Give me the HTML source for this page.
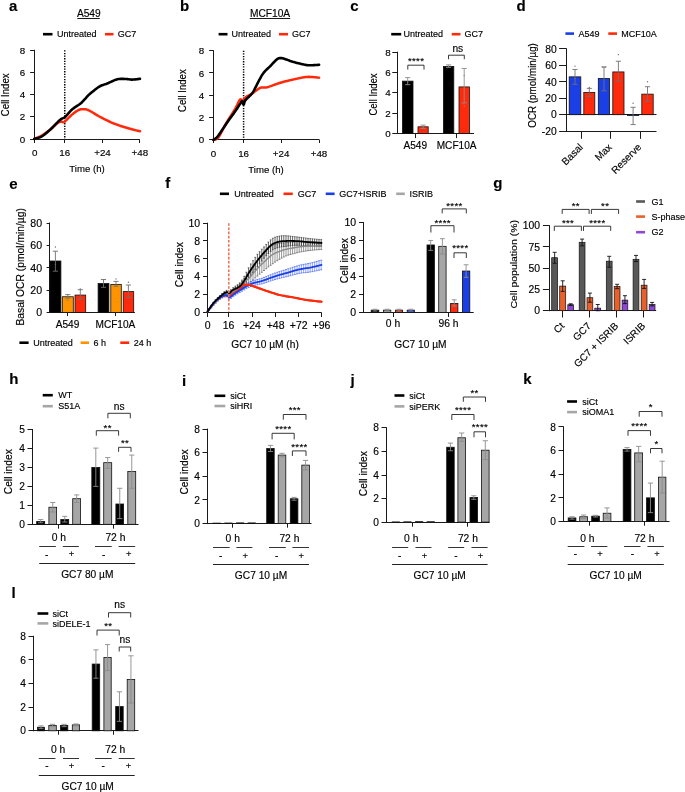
<!DOCTYPE html>
<html><head><meta charset="utf-8"><title>Figure</title>
<style>
html,body{margin:0;padding:0;background:#fff;}
body{width:685px;height:792px;overflow:hidden;}
svg{display:block;filter:blur(0.3px);}
text{font-family:"Liberation Sans", sans-serif;fill:#000;stroke:#000;stroke-width:0.15px;}
</style></head><body>
<svg width="685" height="792" viewBox="0 0 685 792">
<rect x="0" y="0" width="685" height="792" fill="#fff"/>
<text x="9.00" y="10.90" font-size="15" font-weight="bold">a</text>
<text x="0" y="0" font-size="10.2" text-anchor="middle" transform="translate(88.80 16.57) scale(1 1.0)">A549</text>
<line x1="77.30" y1="18.50" x2="99.80" y2="18.50" stroke="#000" stroke-width="0.9" />
<line x1="43.00" y1="34.20" x2="52.50" y2="34.20" stroke="#000" stroke-width="2.6" />
<text x="0" y="0" font-size="9.0" transform="translate(57.00 37.44) scale(1 1.0)">Untreated</text>
<line x1="105.00" y1="34.20" x2="113.50" y2="34.20" stroke="#ff2a0c" stroke-width="2.6" />
<text x="0" y="0" font-size="9.0" transform="translate(117.80 37.44) scale(1 1.0)">GC7</text>
<line x1="34.50" y1="49.80" x2="34.50" y2="139.60" stroke="#1a1a1a" stroke-width="1.0" />
<line x1="30.10" y1="139.50" x2="34.50" y2="139.50" stroke="#1a1a1a" stroke-width="1.0" />
<text x="0" y="0" font-size="9.8" text-anchor="end" transform="translate(25.10 142.63) scale(1 1.0)">0</text>
<line x1="30.10" y1="116.50" x2="34.50" y2="116.50" stroke="#1a1a1a" stroke-width="1.0" />
<text x="0" y="0" font-size="9.8" text-anchor="end" transform="translate(25.10 120.43) scale(1 1.0)">2</text>
<line x1="30.10" y1="94.50" x2="34.50" y2="94.50" stroke="#1a1a1a" stroke-width="1.0" />
<text x="0" y="0" font-size="9.8" text-anchor="end" transform="translate(25.10 98.23) scale(1 1.0)">4</text>
<line x1="30.10" y1="72.50" x2="34.50" y2="72.50" stroke="#1a1a1a" stroke-width="1.0" />
<text x="0" y="0" font-size="9.8" text-anchor="end" transform="translate(25.10 76.03) scale(1 1.0)">6</text>
<line x1="30.10" y1="50.50" x2="34.50" y2="50.50" stroke="#1a1a1a" stroke-width="1.0" />
<text x="0" y="0" font-size="9.8" text-anchor="end" transform="translate(25.10 53.83) scale(1 1.0)">8</text>
<line x1="34.00" y1="139.50" x2="139.80" y2="139.50" stroke="#1a1a1a" stroke-width="1.0" />
<line x1="34.50" y1="139.50" x2="34.50" y2="143.00" stroke="#1a1a1a" stroke-width="1.0" />
<line x1="64.50" y1="139.50" x2="64.50" y2="143.00" stroke="#1a1a1a" stroke-width="1.0" />
<line x1="102.50" y1="139.50" x2="102.50" y2="143.00" stroke="#1a1a1a" stroke-width="1.0" />
<line x1="139.50" y1="139.50" x2="139.50" y2="143.00" stroke="#1a1a1a" stroke-width="1.0" />
<text x="0" y="0" font-size="9.8" text-anchor="middle" transform="translate(34.80 155.83) scale(1 1.0)">0</text>
<text x="0" y="0" font-size="9.8" text-anchor="middle" transform="translate(64.70 155.83) scale(1 1.0)">16</text>
<text x="0" y="0" font-size="9.8" text-anchor="middle" transform="translate(102.50 155.83) scale(1 1.0)">+24</text>
<text x="0" y="0" font-size="9.8" text-anchor="middle" transform="translate(139.80 155.83) scale(1 1.0)">+48</text>
<text x="0" y="0" font-size="9.6" text-anchor="middle" transform="translate(87.00 172.06) scale(1 1.0)">Time (h)</text>
<text x="0" y="3.46" font-size="9.6" text-anchor="middle" transform="translate(4.80 94.80) rotate(-90) scale(1 1.12)">Cell Index</text>
<line x1="64.75" y1="50.30" x2="64.75" y2="139.00" stroke="#000" stroke-width="1.5" stroke-dasharray="1.3 1.3"/>
<polyline points="34.20,138.90 34.78,138.65 35.55,138.35 36.46,137.98 37.48,137.56 38.56,137.10 39.67,136.60 40.76,136.06 41.80,135.50 42.81,134.90 43.84,134.24 44.89,133.54 45.95,132.81 47.01,132.05 48.06,131.27 49.09,130.48 50.10,129.70 51.11,128.87 52.15,127.96 53.19,127.02 54.21,126.07 55.19,125.16 56.11,124.32 56.96,123.59 57.70,123.00 58.33,122.56 58.87,122.23 59.32,122.00 59.72,121.84 60.08,121.75 60.41,121.69 60.75,121.64 61.10,121.60 61.46,121.60 61.79,121.67 62.10,121.78 62.41,121.92 62.70,122.06 63.00,122.17 63.29,122.23 63.60,122.20 63.89,122.12 64.15,122.01 64.39,121.88 64.64,121.70 64.91,121.47 65.24,121.19 65.62,120.83 66.10,120.40 66.67,119.86 67.32,119.20 68.03,118.47 68.79,117.67 69.58,116.86 70.39,116.06 71.20,115.29 72.00,114.60 72.81,113.94 73.66,113.28 74.53,112.62 75.41,111.99 76.28,111.39 77.13,110.85 77.94,110.38 78.70,110.00 79.41,109.70 80.07,109.49 80.70,109.33 81.30,109.24 81.89,109.19 82.48,109.17 83.08,109.18 83.70,109.20 84.29,109.22 84.81,109.23 85.32,109.26 85.83,109.33 86.40,109.46 87.06,109.67 87.85,109.97 88.80,110.40 89.94,110.98 91.22,111.70 92.63,112.52 94.13,113.42 95.70,114.37 97.30,115.32 98.91,116.24 100.50,117.10 102.09,117.93 103.73,118.77 105.40,119.61 107.09,120.44 108.79,121.25 110.50,122.04 112.21,122.79 113.90,123.50 115.59,124.16 117.29,124.79 118.99,125.38 120.70,125.94 122.40,126.48 124.09,127.00 125.75,127.51 127.40,128.00 129.10,128.49 130.91,128.99 132.74,129.47 134.54,129.93 136.24,130.36 137.76,130.74 139.03,131.05 140.00,131.30" fill="none" stroke="#ff2a0c" stroke-width="2.5" stroke-linejoin="round" stroke-linecap="round" />
<polyline points="34.20,138.90 34.78,138.74 35.55,138.55 36.46,138.33 37.48,138.07 38.56,137.75 39.67,137.38 40.76,136.93 41.80,136.40 42.81,135.77 43.84,135.04 44.89,134.23 45.95,133.37 47.01,132.46 48.06,131.54 49.09,130.61 50.10,129.70 51.11,128.76 52.15,127.76 53.19,126.71 54.21,125.67 55.19,124.65 56.11,123.70 56.96,122.84 57.70,122.10 58.32,121.50 58.83,121.01 59.25,120.61 59.61,120.27 59.95,119.98 60.29,119.70 60.67,119.41 61.10,119.10 61.57,118.80 62.04,118.57 62.51,118.37 62.99,118.16 63.51,117.93 64.06,117.62 64.65,117.23 65.30,116.70 66.01,116.02 66.76,115.21 67.55,114.29 68.39,113.32 69.25,112.32 70.15,111.32 71.06,110.37 72.00,109.50 72.99,108.69 74.06,107.91 75.17,107.15 76.31,106.41 77.42,105.69 78.50,104.98 79.50,104.29 80.40,103.60 81.20,102.92 81.93,102.26 82.59,101.60 83.21,100.96 83.79,100.34 84.34,99.74 84.87,99.16 85.40,98.60 85.86,98.10 86.21,97.68 86.50,97.31 86.79,96.94 87.11,96.55 87.52,96.10 88.07,95.56 88.80,94.90 89.75,94.07 90.87,93.09 92.14,92.01 93.49,90.88 94.88,89.75 96.26,88.68 97.58,87.71 98.80,86.90 99.91,86.26 100.97,85.75 101.99,85.32 102.99,84.96 104.00,84.63 105.02,84.30 106.08,83.93 107.20,83.50 108.39,82.99 109.65,82.41 110.94,81.81 112.25,81.21 113.56,80.62 114.85,80.09 116.11,79.64 117.30,79.30 118.44,79.07 119.56,78.93 120.65,78.86 121.71,78.85 122.75,78.88 123.76,78.92 124.74,78.97 125.70,79.00 126.61,79.04 127.47,79.12 128.30,79.22 129.10,79.33 129.90,79.44 130.70,79.53 131.53,79.59 132.40,79.60 133.36,79.56 134.41,79.48 135.52,79.37 136.62,79.24 137.67,79.10 138.61,78.98 139.41,78.87 140.00,78.80" fill="none" stroke="#000" stroke-width="2.6" stroke-linejoin="round" stroke-linecap="round" />
<text x="180.00" y="10.90" font-size="15" font-weight="bold">b</text>
<text x="0" y="0" font-size="10.2" text-anchor="middle" transform="translate(270.00 16.57) scale(1 1.0)">MCF10A</text>
<line x1="249.80" y1="18.50" x2="290.20" y2="18.50" stroke="#000" stroke-width="0.9" />
<line x1="218.60" y1="34.20" x2="227.50" y2="34.20" stroke="#000" stroke-width="2.6" />
<text x="0" y="0" font-size="9.0" transform="translate(231.60 37.44) scale(1 1.0)">Untreated</text>
<line x1="279.00" y1="34.20" x2="288.00" y2="34.20" stroke="#ff2a0c" stroke-width="2.6" />
<text x="0" y="0" font-size="9.0" transform="translate(292.00 37.44) scale(1 1.0)">GC7</text>
<line x1="213.50" y1="50.20" x2="213.50" y2="140.30" stroke="#1a1a1a" stroke-width="1.0" />
<line x1="209.10" y1="139.50" x2="213.50" y2="139.50" stroke="#1a1a1a" stroke-width="1.0" />
<text x="0" y="0" font-size="9.8" text-anchor="end" transform="translate(204.10 143.33) scale(1 1.0)">0</text>
<line x1="209.10" y1="117.50" x2="213.50" y2="117.50" stroke="#1a1a1a" stroke-width="1.0" />
<text x="0" y="0" font-size="9.8" text-anchor="end" transform="translate(204.10 121.05) scale(1 1.0)">2</text>
<line x1="209.10" y1="95.50" x2="213.50" y2="95.50" stroke="#1a1a1a" stroke-width="1.0" />
<text x="0" y="0" font-size="9.8" text-anchor="end" transform="translate(204.10 98.78) scale(1 1.0)">4</text>
<line x1="209.10" y1="72.50" x2="213.50" y2="72.50" stroke="#1a1a1a" stroke-width="1.0" />
<text x="0" y="0" font-size="9.8" text-anchor="end" transform="translate(204.10 76.50) scale(1 1.0)">6</text>
<line x1="209.10" y1="50.50" x2="213.50" y2="50.50" stroke="#1a1a1a" stroke-width="1.0" />
<text x="0" y="0" font-size="9.8" text-anchor="end" transform="translate(204.10 54.23) scale(1 1.0)">8</text>
<line x1="213.00" y1="139.50" x2="319.00" y2="139.50" stroke="#1a1a1a" stroke-width="1.0" />
<line x1="213.50" y1="139.50" x2="213.50" y2="143.00" stroke="#1a1a1a" stroke-width="1.0" />
<line x1="243.50" y1="139.50" x2="243.50" y2="143.00" stroke="#1a1a1a" stroke-width="1.0" />
<line x1="281.50" y1="139.50" x2="281.50" y2="143.00" stroke="#1a1a1a" stroke-width="1.0" />
<line x1="319.50" y1="139.50" x2="319.50" y2="143.00" stroke="#1a1a1a" stroke-width="1.0" />
<text x="0" y="0" font-size="9.8" text-anchor="middle" transform="translate(213.40 156.53) scale(1 1.0)">0</text>
<text x="0" y="0" font-size="9.8" text-anchor="middle" transform="translate(243.60 156.53) scale(1 1.0)">16</text>
<text x="0" y="0" font-size="9.8" text-anchor="middle" transform="translate(281.10 156.53) scale(1 1.0)">+24</text>
<text x="0" y="0" font-size="9.8" text-anchor="middle" transform="translate(319.00 156.53) scale(1 1.0)">+48</text>
<text x="0" y="0" font-size="9.6" text-anchor="middle" transform="translate(266.00 172.86) scale(1 1.0)">Time (h)</text>
<text x="0" y="3.46" font-size="9.6" text-anchor="middle" transform="translate(182.60 90.60) rotate(-90) scale(1 1.12)">Cell Index</text>
<line x1="243.60" y1="50.70" x2="243.60" y2="139.80" stroke="#000" stroke-width="1.5" stroke-dasharray="1.3 1.3"/>
<polyline points="213.40,139.80 213.76,139.69 214.22,139.65 214.76,139.60 215.38,139.49 216.06,139.27 216.79,138.87 217.58,138.23 218.40,137.30 219.29,136.00 220.26,134.37 221.30,132.49 222.39,130.43 223.50,128.29 224.62,126.15 225.73,124.09 226.80,122.20 227.88,120.41 229.00,118.61 230.13,116.83 231.26,115.08 232.36,113.38 233.40,111.76 234.35,110.22 235.20,108.80 235.94,107.46 236.60,106.17 237.19,104.95 237.72,103.82 238.19,102.78 238.62,101.86 239.02,101.06 239.40,100.40 239.73,99.91 240.00,99.59 240.22,99.40 240.41,99.32 240.58,99.32 240.74,99.37 240.91,99.44 241.10,99.50 241.29,99.63 241.46,99.88 241.63,100.21 241.79,100.56 241.97,100.88 242.18,101.13 242.41,101.25 242.70,101.20 243.02,100.95 243.36,100.55 243.73,100.02 244.13,99.42 244.56,98.78 245.03,98.13 245.54,97.53 246.10,97.00 246.70,96.55 247.34,96.15 248.02,95.77 248.74,95.40 249.49,95.02 250.29,94.60 251.13,94.13 252.00,93.60 252.94,92.95 253.96,92.19 255.04,91.37 256.15,90.52 257.26,89.69 258.36,88.93 259.41,88.29 260.40,87.80 261.27,87.51 262.04,87.40 262.74,87.40 263.44,87.47 264.17,87.55 264.99,87.59 265.95,87.52 267.10,87.30 268.45,86.91 269.98,86.41 271.63,85.82 273.38,85.17 275.18,84.51 276.99,83.85 278.78,83.24 280.50,82.70 282.17,82.22 283.85,81.76 285.52,81.33 287.19,80.92 288.87,80.52 290.54,80.14 292.22,79.77 293.90,79.40 295.60,79.03 297.31,78.64 299.03,78.26 300.76,77.89 302.46,77.56 304.15,77.27 305.80,77.05 307.40,76.90 309.03,76.85 310.73,76.89 312.43,76.99 314.09,77.14 315.65,77.31 317.04,77.48 318.21,77.62 319.10,77.70" fill="none" stroke="#ff2a0c" stroke-width="2.5" stroke-linejoin="round" stroke-linecap="round" />
<polyline points="213.40,139.80 213.69,139.62 214.04,139.45 214.45,139.25 214.92,138.99 215.47,138.63 216.10,138.12 216.81,137.42 217.60,136.50 218.52,135.29 219.57,133.80 220.72,132.11 221.94,130.28 223.19,128.38 224.44,126.49 225.65,124.67 226.80,123.00 227.91,121.42 229.04,119.85 230.16,118.30 231.26,116.78 232.33,115.31 233.36,113.89 234.32,112.55 235.20,111.30 236.01,110.12 236.76,108.99 237.46,107.93 238.10,106.92 238.69,106.00 239.24,105.15 239.74,104.38 240.20,103.70 240.60,103.10 240.93,102.58 241.20,102.13 241.42,101.76 241.63,101.48 241.81,101.29 242.00,101.20 242.20,101.20 242.40,101.39 242.59,101.81 242.76,102.38 242.92,103.01 243.08,103.62 243.24,104.15 243.41,104.50 243.60,104.60 243.78,104.44 243.93,104.11 244.07,103.62 244.22,103.03 244.41,102.37 244.64,101.69 244.93,101.02 245.30,100.40 245.78,99.80 246.36,99.17 247.01,98.51 247.70,97.85 248.40,97.19 249.09,96.53 249.73,95.90 250.30,95.30 250.78,94.77 251.20,94.32 251.58,93.91 251.94,93.51 252.31,93.06 252.69,92.54 253.11,91.90 253.60,91.10 254.15,90.12 254.75,88.97 255.39,87.70 256.04,86.36 256.72,84.99 257.39,83.62 258.05,82.31 258.70,81.10 259.32,79.96 259.92,78.85 260.51,77.76 261.10,76.69 261.70,75.66 262.33,74.64 262.99,73.66 263.70,72.70 264.46,71.78 265.26,70.91 266.09,70.07 266.94,69.25 267.81,68.45 268.69,67.64 269.55,66.83 270.40,66.00 271.25,65.12 272.13,64.17 273.02,63.21 273.91,62.25 274.77,61.34 275.60,60.50 276.38,59.78 277.10,59.20 277.74,58.77 278.33,58.47 278.86,58.27 279.36,58.16 279.83,58.10 280.31,58.09 280.79,58.09 281.30,58.10 281.80,58.12 282.25,58.18 282.69,58.27 283.14,58.40 283.62,58.56 284.15,58.75 284.77,58.96 285.50,59.20 286.31,59.48 287.19,59.80 288.12,60.15 289.12,60.53 290.19,60.93 291.34,61.33 292.58,61.72 293.90,62.10 295.36,62.49 296.96,62.92 298.67,63.36 300.44,63.80 302.25,64.21 304.03,64.58 305.76,64.88 307.40,65.10 309.03,65.22 310.73,65.25 312.43,65.22 314.09,65.14 315.65,65.04 317.04,64.93 318.21,64.85 319.10,64.80" fill="none" stroke="#000" stroke-width="2.6" stroke-linejoin="round" stroke-linecap="round" />
<text x="350.30" y="10.90" font-size="15" font-weight="bold">c</text>
<line x1="391.20" y1="34.20" x2="401.20" y2="34.20" stroke="#000" stroke-width="2.6" />
<text x="0" y="0" font-size="9.0" transform="translate(403.60 37.44) scale(1 1.0)">Untreated</text>
<line x1="451.70" y1="34.20" x2="460.50" y2="34.20" stroke="#ff2a0c" stroke-width="2.6" />
<text x="0" y="0" font-size="9.0" transform="translate(464.60 37.44) scale(1 1.0)">GC7</text>
<line x1="397.50" y1="51.70" x2="397.50" y2="133.90" stroke="#1a1a1a" stroke-width="1.0" />
<line x1="392.30" y1="133.50" x2="397.50" y2="133.50" stroke="#1a1a1a" stroke-width="1.0" />
<text x="0" y="0" font-size="9.8" text-anchor="end" transform="translate(390.70 136.93) scale(1 1.0)">0</text>
<line x1="392.30" y1="113.50" x2="397.50" y2="113.50" stroke="#1a1a1a" stroke-width="1.0" />
<text x="0" y="0" font-size="9.8" text-anchor="end" transform="translate(390.70 116.63) scale(1 1.0)">2</text>
<line x1="392.30" y1="92.50" x2="397.50" y2="92.50" stroke="#1a1a1a" stroke-width="1.0" />
<text x="0" y="0" font-size="9.8" text-anchor="end" transform="translate(390.70 96.33) scale(1 1.0)">4</text>
<line x1="392.30" y1="72.50" x2="397.50" y2="72.50" stroke="#1a1a1a" stroke-width="1.0" />
<text x="0" y="0" font-size="9.8" text-anchor="end" transform="translate(390.70 76.03) scale(1 1.0)">6</text>
<line x1="392.30" y1="52.50" x2="397.50" y2="52.50" stroke="#1a1a1a" stroke-width="1.0" />
<text x="0" y="0" font-size="9.8" text-anchor="end" transform="translate(390.70 55.73) scale(1 1.0)">8</text>
<line x1="397.00" y1="133.50" x2="474.00" y2="133.50" stroke="#1a1a1a" stroke-width="1.0" />
<line x1="415.50" y1="133.50" x2="415.50" y2="138.10" stroke="#1a1a1a" stroke-width="1.0" />
<line x1="456.50" y1="133.50" x2="456.50" y2="138.10" stroke="#1a1a1a" stroke-width="1.0" />
<rect x="402.40" y="81.13" width="10.60" height="52.27" fill="#000" stroke="#111" stroke-width="0.8"/>
<rect x="418.00" y="126.80" width="10.20" height="6.60" fill="#ff2a0c" stroke="#111" stroke-width="0.8"/>
<rect x="443.40" y="66.41" width="10.40" height="66.99" fill="#000" stroke="#111" stroke-width="0.8"/>
<rect x="459.00" y="86.91" width="10.40" height="46.49" fill="#ff2a0c" stroke="#111" stroke-width="0.8"/>
<line x1="407.70" y1="77.58" x2="407.70" y2="84.68" stroke="#8c8c8c" stroke-width="0.9" />
<line x1="405.10" y1="77.58" x2="410.30" y2="77.58" stroke="#8c8c8c" stroke-width="0.9" />
<line x1="405.10" y1="84.68" x2="410.30" y2="84.68" stroke="#8c8c8c" stroke-width="0.9" />
<line x1="423.10" y1="125.08" x2="423.10" y2="128.33" stroke="#8c8c8c" stroke-width="0.9" />
<line x1="420.50" y1="125.08" x2="425.70" y2="125.08" stroke="#8c8c8c" stroke-width="0.9" />
<line x1="420.50" y1="128.33" x2="425.70" y2="128.33" stroke="#8c8c8c" stroke-width="0.9" />
<line x1="448.60" y1="64.89" x2="448.60" y2="67.42" stroke="#8c8c8c" stroke-width="0.9" />
<line x1="446.00" y1="64.89" x2="451.20" y2="64.89" stroke="#8c8c8c" stroke-width="0.9" />
<line x1="446.00" y1="67.42" x2="451.20" y2="67.42" stroke="#8c8c8c" stroke-width="0.9" />
<line x1="464.20" y1="68.44" x2="464.20" y2="102.95" stroke="#8c8c8c" stroke-width="0.9" />
<line x1="461.60" y1="68.44" x2="466.80" y2="68.44" stroke="#8c8c8c" stroke-width="0.9" />
<line x1="461.60" y1="102.95" x2="466.80" y2="102.95" stroke="#8c8c8c" stroke-width="0.9" />
<circle cx="464.20" cy="75.55" r="0.7" fill="#8c8c8c"/>
<circle cx="464.20" cy="106.00" r="0.7" fill="#8c8c8c"/>
<text x="0" y="0" font-size="10.1" text-anchor="middle" transform="translate(415.30 149.34) scale(1 1.0)">A549</text>
<text x="0" y="0" font-size="10.1" text-anchor="middle" transform="translate(456.60 149.34) scale(1 1.0)">MCF10A</text>
<text x="0" y="3.42" font-size="9.5" text-anchor="middle" transform="translate(373.30 94.50) rotate(-90) scale(1 1.12)">Cell Index</text>
<polyline points="407.80,69.60 407.80,65.20 424.00,65.20 424.00,69.60" fill="none" stroke="#222" stroke-width="0.9"/>
<text x="416.10" y="64.12" font-size="9.6" letter-spacing="0.35" text-anchor="middle">****</text>
<polyline points="448.5,59.2 448.5,55.2 464.3,55.2 464.3,59.2" fill="none" stroke="#222" stroke-width="0.9"/>
<text x="0" y="0" font-size="10.2" text-anchor="middle" transform="translate(457.80 52.27) scale(1 1.0)">ns</text>
<text x="516.50" y="10.90" font-size="15" font-weight="bold">d</text>
<line x1="565.40" y1="33.60" x2="574.00" y2="33.60" stroke="#1a3fe6" stroke-width="2.6" />
<text x="0" y="0" font-size="9.0" transform="translate(578.40 36.84) scale(1 1.0)">A549</text>
<line x1="608.30" y1="33.60" x2="617.00" y2="33.60" stroke="#ff2a0c" stroke-width="2.6" />
<text x="0" y="0" font-size="9.0" transform="translate(621.20 36.84) scale(1 1.0)">MCF10A</text>
<line x1="566.50" y1="48.40" x2="566.50" y2="131.65" stroke="#1a1a1a" stroke-width="1.0" />
<line x1="559.10" y1="131.50" x2="566.50" y2="131.50" stroke="#1a1a1a" stroke-width="1.0" />
<text x="0" y="0" font-size="10.3" text-anchor="end" transform="translate(556.70 134.86) scale(1 1.0)">-20</text>
<line x1="559.10" y1="114.50" x2="566.50" y2="114.50" stroke="#1a1a1a" stroke-width="1.0" />
<text x="0" y="0" font-size="10.3" text-anchor="end" transform="translate(556.70 118.41) scale(1 1.0)">0</text>
<line x1="559.10" y1="98.50" x2="566.50" y2="98.50" stroke="#1a1a1a" stroke-width="1.0" />
<text x="0" y="0" font-size="10.3" text-anchor="end" transform="translate(556.70 101.96) scale(1 1.0)">20</text>
<line x1="559.10" y1="81.50" x2="566.50" y2="81.50" stroke="#1a1a1a" stroke-width="1.0" />
<text x="0" y="0" font-size="10.3" text-anchor="end" transform="translate(556.70 85.51) scale(1 1.0)">40</text>
<line x1="559.10" y1="65.50" x2="566.50" y2="65.50" stroke="#1a1a1a" stroke-width="1.0" />
<text x="0" y="0" font-size="10.3" text-anchor="end" transform="translate(556.70 69.06) scale(1 1.0)">60</text>
<line x1="559.10" y1="48.50" x2="566.50" y2="48.50" stroke="#1a1a1a" stroke-width="1.0" />
<text x="0" y="0" font-size="10.3" text-anchor="end" transform="translate(556.70 52.61) scale(1 1.0)">80</text>
<line x1="566.20" y1="114.50" x2="656.50" y2="114.50" stroke="#1a1a1a" stroke-width="1.0" />
<line x1="566.00" y1="131.50" x2="656.50" y2="131.50" stroke="#1a1a1a" stroke-width="1.0" />
<line x1="581.50" y1="131.50" x2="581.50" y2="138.80" stroke="#1a1a1a" stroke-width="1.0" />
<line x1="610.50" y1="131.50" x2="610.50" y2="138.80" stroke="#1a1a1a" stroke-width="1.0" />
<line x1="640.50" y1="131.50" x2="640.50" y2="138.80" stroke="#1a1a1a" stroke-width="1.0" />
<rect x="569.20" y="76.86" width="11.60" height="37.84" fill="#1a3fe6" stroke="#111" stroke-width="0.8"/>
<rect x="583.80" y="92.49" width="11.00" height="22.21" fill="#ff2a0c" stroke="#111" stroke-width="0.8"/>
<rect x="598.30" y="78.51" width="11.30" height="36.19" fill="#1a3fe6" stroke="#111" stroke-width="0.8"/>
<rect x="612.80" y="71.93" width="11.20" height="42.77" fill="#ff2a0c" stroke="#111" stroke-width="0.8"/>
<rect x="627.40" y="114.70" width="11.40" height="0.82" fill="#1a3fe6" stroke="#111" stroke-width="0.8"/>
<rect x="641.80" y="94.14" width="11.40" height="20.56" fill="#ff2a0c" stroke="#111" stroke-width="0.8"/>
<line x1="575.00" y1="69.46" x2="575.00" y2="84.27" stroke="#707070" stroke-width="0.9" />
<line x1="572.40" y1="69.46" x2="577.60" y2="69.46" stroke="#707070" stroke-width="0.9" />
<line x1="572.40" y1="84.27" x2="577.60" y2="84.27" stroke="#707070" stroke-width="0.9" />
<circle cx="575.00" cy="66.17" r="0.7" fill="#707070"/>
<circle cx="575.00" cy="78.51" r="0.7" fill="#707070"/>
<line x1="589.30" y1="88.38" x2="589.30" y2="96.60" stroke="#707070" stroke-width="0.9" />
<line x1="586.70" y1="88.38" x2="591.90" y2="88.38" stroke="#707070" stroke-width="0.9" />
<line x1="586.70" y1="96.60" x2="591.90" y2="96.60" stroke="#707070" stroke-width="0.9" />
<circle cx="589.30" cy="87.56" r="0.7" fill="#707070"/>
<line x1="604.00" y1="67.00" x2="604.00" y2="90.85" stroke="#707070" stroke-width="0.9" />
<line x1="601.40" y1="67.00" x2="606.60" y2="67.00" stroke="#707070" stroke-width="0.9" />
<line x1="601.40" y1="90.85" x2="606.60" y2="90.85" stroke="#707070" stroke-width="0.9" />
<circle cx="602.80" cy="67.00" r="0.7" fill="#707070"/>
<circle cx="605.20" cy="67.00" r="0.7" fill="#707070"/>
<line x1="618.40" y1="61.24" x2="618.40" y2="80.98" stroke="#707070" stroke-width="0.9" />
<line x1="615.80" y1="61.24" x2="621.00" y2="61.24" stroke="#707070" stroke-width="0.9" />
<line x1="615.80" y1="80.98" x2="621.00" y2="80.98" stroke="#707070" stroke-width="0.9" />
<circle cx="618.40" cy="54.66" r="0.7" fill="#707070"/>
<line x1="633.10" y1="107.30" x2="633.10" y2="124.57" stroke="#707070" stroke-width="0.9" />
<line x1="630.50" y1="107.30" x2="635.70" y2="107.30" stroke="#707070" stroke-width="0.9" />
<line x1="630.50" y1="124.57" x2="635.70" y2="124.57" stroke="#707070" stroke-width="0.9" />
<circle cx="633.10" cy="103.19" r="0.7" fill="#707070"/>
<line x1="647.50" y1="86.73" x2="647.50" y2="101.54" stroke="#707070" stroke-width="0.9" />
<line x1="644.90" y1="86.73" x2="650.10" y2="86.73" stroke="#707070" stroke-width="0.9" />
<line x1="644.90" y1="101.54" x2="650.10" y2="101.54" stroke="#707070" stroke-width="0.9" />
<circle cx="647.50" cy="81.80" r="0.7" fill="#707070"/>
<text x="0" y="3.53" font-size="9.8" text-anchor="middle" transform="translate(531.90 85.40) rotate(-90) scale(1 1.12)">OCR (pmol/min/µg)</text>
<text x="0" y="0" font-size="10.1" text-anchor="end" transform="translate(583.60 147.8) rotate(-45)">Basal</text>
<text x="0" y="0" font-size="10.1" text-anchor="end" transform="translate(612.60 147.8) rotate(-45)">Max</text>
<text x="0" y="0" font-size="10.1" text-anchor="end" transform="translate(642.00 147.8) rotate(-45)">Reserve</text>
<text x="9.20" y="188.60" font-size="15" font-weight="bold">e</text>
<line x1="49.50" y1="222.50" x2="49.50" y2="312.90" stroke="#1a1a1a" stroke-width="1.0" />
<line x1="46.60" y1="312.50" x2="49.50" y2="312.50" stroke="#1a1a1a" stroke-width="1.0" />
<text x="0" y="0" font-size="10.6" text-anchor="end" transform="translate(42.10 316.22) scale(1 1.0)">0</text>
<line x1="46.60" y1="290.50" x2="49.50" y2="290.50" stroke="#1a1a1a" stroke-width="1.0" />
<text x="0" y="0" font-size="10.6" text-anchor="end" transform="translate(42.10 293.87) scale(1 1.0)">20</text>
<line x1="46.60" y1="267.50" x2="49.50" y2="267.50" stroke="#1a1a1a" stroke-width="1.0" />
<text x="0" y="0" font-size="10.6" text-anchor="end" transform="translate(42.10 271.52) scale(1 1.0)">40</text>
<line x1="46.60" y1="245.50" x2="49.50" y2="245.50" stroke="#1a1a1a" stroke-width="1.0" />
<text x="0" y="0" font-size="10.6" text-anchor="end" transform="translate(42.10 249.17) scale(1 1.0)">60</text>
<line x1="46.60" y1="223.50" x2="49.50" y2="223.50" stroke="#1a1a1a" stroke-width="1.0" />
<text x="0" y="0" font-size="10.6" text-anchor="end" transform="translate(42.10 226.82) scale(1 1.0)">80</text>
<line x1="49.00" y1="312.50" x2="134.90" y2="312.50" stroke="#1a1a1a" stroke-width="1.0" />
<line x1="67.50" y1="312.50" x2="67.50" y2="316.00" stroke="#1a1a1a" stroke-width="1.0" />
<line x1="115.50" y1="312.50" x2="115.50" y2="316.00" stroke="#1a1a1a" stroke-width="1.0" />
<rect x="49.90" y="261.00" width="11.00" height="51.40" fill="#000" stroke="#111" stroke-width="0.8"/>
<rect x="62.30" y="296.75" width="11.00" height="15.64" fill="#ff9400" stroke="#111" stroke-width="0.8"/>
<rect x="75.00" y="295.08" width="10.70" height="17.32" fill="#ff2a0c" stroke="#111" stroke-width="0.8"/>
<rect x="98.10" y="283.57" width="10.80" height="28.83" fill="#000" stroke="#111" stroke-width="0.8"/>
<rect x="110.80" y="284.46" width="10.50" height="27.94" fill="#ff9400" stroke="#111" stroke-width="0.8"/>
<rect x="123.20" y="291.61" width="10.50" height="20.79" fill="#ff2a0c" stroke="#111" stroke-width="0.8"/>
<line x1="55.40" y1="251.20" x2="55.40" y2="271.20" stroke="#707070" stroke-width="0.9" />
<line x1="52.80" y1="251.20" x2="58.00" y2="251.20" stroke="#707070" stroke-width="0.9" />
<line x1="52.80" y1="271.20" x2="58.00" y2="271.20" stroke="#707070" stroke-width="0.9" />
<circle cx="55.40" cy="247.03" r="0.7" fill="#707070"/>
<circle cx="55.40" cy="264.35" r="0.7" fill="#707070"/>
<line x1="67.80" y1="294.60" x2="67.80" y2="298.20" stroke="#707070" stroke-width="0.9" />
<line x1="65.20" y1="294.60" x2="70.40" y2="294.60" stroke="#707070" stroke-width="0.9" />
<line x1="65.20" y1="298.20" x2="70.40" y2="298.20" stroke="#707070" stroke-width="0.9" />
<circle cx="67.80" cy="300.11" r="0.7" fill="#707070"/>
<line x1="80.30" y1="289.70" x2="80.30" y2="299.40" stroke="#707070" stroke-width="0.9" />
<line x1="77.70" y1="289.70" x2="82.90" y2="289.70" stroke="#707070" stroke-width="0.9" />
<line x1="77.70" y1="299.40" x2="82.90" y2="299.40" stroke="#707070" stroke-width="0.9" />
<circle cx="80.30" cy="288.93" r="0.7" fill="#707070"/>
<line x1="103.50" y1="279.50" x2="103.50" y2="287.30" stroke="#707070" stroke-width="0.9" />
<line x1="100.90" y1="279.50" x2="106.10" y2="279.50" stroke="#707070" stroke-width="0.9" />
<line x1="100.90" y1="287.30" x2="106.10" y2="287.30" stroke="#707070" stroke-width="0.9" />
<line x1="116.00" y1="281.40" x2="116.00" y2="286.20" stroke="#707070" stroke-width="0.9" />
<line x1="113.40" y1="281.40" x2="118.60" y2="281.40" stroke="#707070" stroke-width="0.9" />
<line x1="113.40" y1="286.20" x2="118.60" y2="286.20" stroke="#707070" stroke-width="0.9" />
<circle cx="116.00" cy="278.88" r="0.7" fill="#707070"/>
<line x1="128.40" y1="285.00" x2="128.40" y2="297.50" stroke="#707070" stroke-width="0.9" />
<line x1="125.80" y1="285.00" x2="131.00" y2="285.00" stroke="#707070" stroke-width="0.9" />
<line x1="125.80" y1="297.50" x2="131.00" y2="297.50" stroke="#707070" stroke-width="0.9" />
<circle cx="128.40" cy="282.23" r="0.7" fill="#707070"/>
<circle cx="128.40" cy="297.87" r="0.7" fill="#707070"/>
<text x="0" y="0" font-size="10.1" text-anchor="middle" transform="translate(67.50 328.44) scale(1 1.0)">A549</text>
<text x="0" y="0" font-size="10.1" text-anchor="middle" transform="translate(115.40 328.44) scale(1 1.0)">MCF10A</text>
<text x="0" y="3.71" font-size="10.3" text-anchor="middle" transform="translate(19.60 266.80) rotate(-90) scale(1 1.12)">Basal OCR (pmol/min/µg)</text>
<line x1="19.40" y1="342.70" x2="28.60" y2="342.70" stroke="#000" stroke-width="2.6" />
<text x="0" y="0" font-size="9.0" transform="translate(33.30 345.94) scale(1 1.0)">Untreated</text>
<line x1="80.60" y1="342.70" x2="89.00" y2="342.70" stroke="#ff9400" stroke-width="2.6" />
<text x="0" y="0" font-size="9.0" transform="translate(93.60 345.94) scale(1 1.0)">6 h</text>
<line x1="120.30" y1="342.70" x2="129.20" y2="342.70" stroke="#ff2a0c" stroke-width="2.6" />
<text x="0" y="0" font-size="9.0" transform="translate(133.80 345.94) scale(1 1.0)">24 h</text>
<text x="165.30" y="188.40" font-size="15" font-weight="bold">f</text>
<line x1="219.90" y1="193.80" x2="229.00" y2="193.80" stroke="#000" stroke-width="2.6" />
<text x="0" y="0" font-size="9.0" transform="translate(234.20 197.04) scale(1 1.0)">Untreated</text>
<line x1="283.50" y1="193.80" x2="292.80" y2="193.80" stroke="#ff2a0c" stroke-width="2.6" />
<text x="0" y="0" font-size="9.0" transform="translate(297.80 197.04) scale(1 1.0)">GC7</text>
<line x1="325.70" y1="193.80" x2="334.60" y2="193.80" stroke="#1a3fe6" stroke-width="2.6" />
<text x="0" y="0" font-size="9.0" transform="translate(339.20 197.04) scale(1 1.0)">GC7+ISRIB</text>
<line x1="396.20" y1="193.80" x2="404.80" y2="193.80" stroke="#a6a6a6" stroke-width="2.6" />
<text x="0" y="0" font-size="9.0" transform="translate(409.60 197.04) scale(1 1.0)">ISRIB</text>
<line x1="207.50" y1="222.70" x2="207.50" y2="312.60" stroke="#1a1a1a" stroke-width="1.0" />
<line x1="203.00" y1="312.50" x2="207.50" y2="312.50" stroke="#1a1a1a" stroke-width="1.0" />
<text x="0" y="0" font-size="10.5" text-anchor="end" transform="translate(200.20 315.88) scale(1 1.0)">0</text>
<line x1="203.00" y1="294.50" x2="207.50" y2="294.50" stroke="#1a1a1a" stroke-width="1.0" />
<text x="0" y="0" font-size="10.5" text-anchor="end" transform="translate(200.20 298.10) scale(1 1.0)">2</text>
<line x1="203.00" y1="276.50" x2="207.50" y2="276.50" stroke="#1a1a1a" stroke-width="1.0" />
<text x="0" y="0" font-size="10.5" text-anchor="end" transform="translate(200.20 280.32) scale(1 1.0)">4</text>
<line x1="203.00" y1="258.50" x2="207.50" y2="258.50" stroke="#1a1a1a" stroke-width="1.0" />
<text x="0" y="0" font-size="10.5" text-anchor="end" transform="translate(200.20 262.54) scale(1 1.0)">6</text>
<line x1="203.00" y1="240.50" x2="207.50" y2="240.50" stroke="#1a1a1a" stroke-width="1.0" />
<text x="0" y="0" font-size="10.5" text-anchor="end" transform="translate(200.20 244.76) scale(1 1.0)">8</text>
<line x1="203.00" y1="223.50" x2="207.50" y2="223.50" stroke="#1a1a1a" stroke-width="1.0" />
<text x="0" y="0" font-size="10.5" text-anchor="end" transform="translate(200.20 226.98) scale(1 1.0)">10</text>
<line x1="207.00" y1="312.50" x2="321.60" y2="312.50" stroke="#1a1a1a" stroke-width="1.0" />
<line x1="207.50" y1="312.50" x2="207.50" y2="317.00" stroke="#1a1a1a" stroke-width="1.0" />
<line x1="228.50" y1="312.50" x2="228.50" y2="317.00" stroke="#1a1a1a" stroke-width="1.0" />
<line x1="252.50" y1="312.50" x2="252.50" y2="317.00" stroke="#1a1a1a" stroke-width="1.0" />
<line x1="275.50" y1="312.50" x2="275.50" y2="317.00" stroke="#1a1a1a" stroke-width="1.0" />
<line x1="298.50" y1="312.50" x2="298.50" y2="317.00" stroke="#1a1a1a" stroke-width="1.0" />
<line x1="321.50" y1="312.50" x2="321.50" y2="317.00" stroke="#1a1a1a" stroke-width="1.0" />
<text x="0" y="0" font-size="10.5" text-anchor="middle" transform="translate(207.60 328.78) scale(1 1.0)">0</text>
<text x="0" y="0" font-size="10.5" text-anchor="middle" transform="translate(228.60 328.78) scale(1 1.0)">16</text>
<text x="0" y="0" font-size="10.5" text-anchor="middle" transform="translate(252.00 328.78) scale(1 1.0)">+24</text>
<text x="0" y="0" font-size="10.5" text-anchor="middle" transform="translate(275.60 328.78) scale(1 1.0)">+48</text>
<text x="0" y="0" font-size="10.5" text-anchor="middle" transform="translate(298.70 328.78) scale(1 1.0)">+72</text>
<text x="0" y="0" font-size="10.5" text-anchor="middle" transform="translate(321.50 328.78) scale(1 1.0)">+96</text>
<text x="0" y="0" font-size="10.2" text-anchor="middle" transform="translate(265.00 348.27) scale(1 1.0)">GC7 10 µM (h)</text>
<text x="0" y="3.71" font-size="10.3" text-anchor="middle" transform="translate(179.20 264.60) rotate(-90) scale(1 1.12)">Cell index</text>
<line x1="209.00" y1="309.41" x2="209.00" y2="310.23" stroke="#777" stroke-width="0.75" />
<line x1="208.00" y1="309.41" x2="210.00" y2="309.41" stroke="#666" stroke-width="0.7" />
<line x1="208.00" y1="310.23" x2="210.00" y2="310.23" stroke="#555" stroke-width="0.7" />
<line x1="211.20" y1="306.70" x2="211.20" y2="307.88" stroke="#777" stroke-width="0.75" />
<line x1="210.20" y1="306.70" x2="212.20" y2="306.70" stroke="#666" stroke-width="0.7" />
<line x1="210.20" y1="307.88" x2="212.20" y2="307.88" stroke="#555" stroke-width="0.7" />
<line x1="213.40" y1="303.99" x2="213.40" y2="305.53" stroke="#777" stroke-width="0.75" />
<line x1="212.40" y1="303.99" x2="214.40" y2="303.99" stroke="#666" stroke-width="0.7" />
<line x1="212.40" y1="305.53" x2="214.40" y2="305.53" stroke="#555" stroke-width="0.7" />
<line x1="215.60" y1="301.33" x2="215.60" y2="303.22" stroke="#777" stroke-width="0.75" />
<line x1="214.60" y1="301.33" x2="216.60" y2="301.33" stroke="#666" stroke-width="0.7" />
<line x1="214.60" y1="303.22" x2="216.60" y2="303.22" stroke="#555" stroke-width="0.7" />
<line x1="217.80" y1="298.73" x2="217.80" y2="300.97" stroke="#777" stroke-width="0.75" />
<line x1="216.80" y1="298.73" x2="218.80" y2="298.73" stroke="#666" stroke-width="0.7" />
<line x1="216.80" y1="300.97" x2="218.80" y2="300.97" stroke="#555" stroke-width="0.7" />
<line x1="220.00" y1="296.24" x2="220.00" y2="298.84" stroke="#777" stroke-width="0.75" />
<line x1="219.00" y1="296.24" x2="221.00" y2="296.24" stroke="#666" stroke-width="0.7" />
<line x1="219.00" y1="298.84" x2="221.00" y2="298.84" stroke="#555" stroke-width="0.7" />
<line x1="222.20" y1="293.99" x2="222.20" y2="296.94" stroke="#777" stroke-width="0.75" />
<line x1="221.20" y1="293.99" x2="223.20" y2="293.99" stroke="#666" stroke-width="0.7" />
<line x1="221.20" y1="296.94" x2="223.20" y2="296.94" stroke="#555" stroke-width="0.7" />
<line x1="224.40" y1="292.45" x2="224.40" y2="295.78" stroke="#777" stroke-width="0.75" />
<line x1="223.40" y1="292.45" x2="225.40" y2="292.45" stroke="#666" stroke-width="0.7" />
<line x1="223.40" y1="295.78" x2="225.40" y2="295.78" stroke="#555" stroke-width="0.7" />
<line x1="226.60" y1="292.30" x2="226.60" y2="296.00" stroke="#777" stroke-width="0.75" />
<line x1="225.60" y1="292.30" x2="227.60" y2="292.30" stroke="#666" stroke-width="0.7" />
<line x1="225.60" y1="296.00" x2="227.60" y2="296.00" stroke="#555" stroke-width="0.7" />
<line x1="228.80" y1="292.21" x2="228.80" y2="296.29" stroke="#777" stroke-width="0.75" />
<line x1="227.80" y1="292.21" x2="229.80" y2="292.21" stroke="#666" stroke-width="0.7" />
<line x1="227.80" y1="296.29" x2="229.80" y2="296.29" stroke="#555" stroke-width="0.7" />
<line x1="231.00" y1="290.93" x2="231.00" y2="295.39" stroke="#777" stroke-width="0.75" />
<line x1="230.00" y1="290.93" x2="232.00" y2="290.93" stroke="#666" stroke-width="0.7" />
<line x1="230.00" y1="295.39" x2="232.00" y2="295.39" stroke="#555" stroke-width="0.7" />
<line x1="233.20" y1="289.32" x2="233.20" y2="294.16" stroke="#777" stroke-width="0.75" />
<line x1="232.20" y1="289.32" x2="234.20" y2="289.32" stroke="#666" stroke-width="0.7" />
<line x1="232.20" y1="294.16" x2="234.20" y2="294.16" stroke="#555" stroke-width="0.7" />
<line x1="235.40" y1="287.54" x2="235.40" y2="292.75" stroke="#777" stroke-width="0.75" />
<line x1="234.40" y1="287.54" x2="236.40" y2="287.54" stroke="#666" stroke-width="0.7" />
<line x1="234.40" y1="292.75" x2="236.40" y2="292.75" stroke="#555" stroke-width="0.7" />
<line x1="237.60" y1="285.65" x2="237.60" y2="291.24" stroke="#777" stroke-width="0.75" />
<line x1="236.60" y1="285.65" x2="238.60" y2="285.65" stroke="#666" stroke-width="0.7" />
<line x1="236.60" y1="291.24" x2="238.60" y2="291.24" stroke="#555" stroke-width="0.7" />
<line x1="239.80" y1="283.68" x2="239.80" y2="289.65" stroke="#777" stroke-width="0.75" />
<line x1="238.80" y1="283.68" x2="240.80" y2="283.68" stroke="#666" stroke-width="0.7" />
<line x1="238.80" y1="289.65" x2="240.80" y2="289.65" stroke="#555" stroke-width="0.7" />
<line x1="242.00" y1="281.27" x2="242.00" y2="288.27" stroke="#777" stroke-width="0.75" />
<line x1="241.00" y1="281.27" x2="243.00" y2="281.27" stroke="#666" stroke-width="0.7" />
<line x1="241.00" y1="288.27" x2="243.00" y2="288.27" stroke="#555" stroke-width="0.7" />
<line x1="244.20" y1="278.70" x2="244.20" y2="286.80" stroke="#777" stroke-width="0.75" />
<line x1="243.20" y1="278.70" x2="245.20" y2="278.70" stroke="#666" stroke-width="0.7" />
<line x1="243.20" y1="286.80" x2="245.20" y2="286.80" stroke="#555" stroke-width="0.7" />
<line x1="246.40" y1="276.03" x2="246.40" y2="285.23" stroke="#777" stroke-width="0.75" />
<line x1="245.40" y1="276.03" x2="247.40" y2="276.03" stroke="#666" stroke-width="0.7" />
<line x1="245.40" y1="285.23" x2="247.40" y2="285.23" stroke="#555" stroke-width="0.7" />
<line x1="248.60" y1="273.28" x2="248.60" y2="283.58" stroke="#777" stroke-width="0.75" />
<line x1="247.60" y1="273.28" x2="249.60" y2="273.28" stroke="#666" stroke-width="0.7" />
<line x1="247.60" y1="283.58" x2="249.60" y2="283.58" stroke="#555" stroke-width="0.7" />
<line x1="250.80" y1="270.43" x2="250.80" y2="281.87" stroke="#777" stroke-width="0.75" />
<line x1="249.80" y1="270.43" x2="251.80" y2="270.43" stroke="#666" stroke-width="0.7" />
<line x1="249.80" y1="281.87" x2="251.80" y2="281.87" stroke="#555" stroke-width="0.7" />
<line x1="253.00" y1="267.33" x2="253.00" y2="279.97" stroke="#777" stroke-width="0.75" />
<line x1="252.00" y1="267.33" x2="254.00" y2="267.33" stroke="#666" stroke-width="0.7" />
<line x1="252.00" y1="279.97" x2="254.00" y2="279.97" stroke="#555" stroke-width="0.7" />
<line x1="255.20" y1="264.10" x2="255.20" y2="277.95" stroke="#777" stroke-width="0.75" />
<line x1="254.20" y1="264.10" x2="256.20" y2="264.10" stroke="#666" stroke-width="0.7" />
<line x1="254.20" y1="277.95" x2="256.20" y2="277.95" stroke="#555" stroke-width="0.7" />
<line x1="257.40" y1="261.07" x2="257.40" y2="276.09" stroke="#777" stroke-width="0.75" />
<line x1="256.40" y1="261.07" x2="258.40" y2="261.07" stroke="#666" stroke-width="0.7" />
<line x1="256.40" y1="276.09" x2="258.40" y2="276.09" stroke="#555" stroke-width="0.7" />
<line x1="259.60" y1="258.51" x2="259.60" y2="274.14" stroke="#777" stroke-width="0.75" />
<line x1="258.60" y1="258.51" x2="260.60" y2="258.51" stroke="#666" stroke-width="0.7" />
<line x1="258.60" y1="274.14" x2="260.60" y2="274.14" stroke="#555" stroke-width="0.7" />
<line x1="261.80" y1="256.05" x2="261.80" y2="272.28" stroke="#777" stroke-width="0.75" />
<line x1="260.80" y1="256.05" x2="262.80" y2="256.05" stroke="#666" stroke-width="0.7" />
<line x1="260.80" y1="272.28" x2="262.80" y2="272.28" stroke="#555" stroke-width="0.7" />
<line x1="264.00" y1="253.65" x2="264.00" y2="270.48" stroke="#777" stroke-width="0.75" />
<line x1="263.00" y1="253.65" x2="265.00" y2="253.65" stroke="#666" stroke-width="0.7" />
<line x1="263.00" y1="270.48" x2="265.00" y2="270.48" stroke="#555" stroke-width="0.7" />
<line x1="266.20" y1="251.25" x2="266.20" y2="268.69" stroke="#777" stroke-width="0.75" />
<line x1="265.20" y1="251.25" x2="267.20" y2="251.25" stroke="#666" stroke-width="0.7" />
<line x1="265.20" y1="268.69" x2="267.20" y2="268.69" stroke="#555" stroke-width="0.7" />
<line x1="268.40" y1="248.86" x2="268.40" y2="266.90" stroke="#777" stroke-width="0.75" />
<line x1="267.40" y1="248.86" x2="269.40" y2="248.86" stroke="#666" stroke-width="0.7" />
<line x1="267.40" y1="266.90" x2="269.40" y2="266.90" stroke="#555" stroke-width="0.7" />
<line x1="270.60" y1="246.65" x2="270.60" y2="265.30" stroke="#777" stroke-width="0.75" />
<line x1="269.60" y1="246.65" x2="271.60" y2="246.65" stroke="#666" stroke-width="0.7" />
<line x1="269.60" y1="265.30" x2="271.60" y2="265.30" stroke="#555" stroke-width="0.7" />
<line x1="272.80" y1="245.10" x2="272.80" y2="263.73" stroke="#777" stroke-width="0.75" />
<line x1="271.80" y1="245.10" x2="273.80" y2="245.10" stroke="#666" stroke-width="0.7" />
<line x1="271.80" y1="263.73" x2="273.80" y2="263.73" stroke="#555" stroke-width="0.7" />
<line x1="275.00" y1="244.38" x2="275.00" y2="262.11" stroke="#777" stroke-width="0.75" />
<line x1="274.00" y1="244.38" x2="276.00" y2="244.38" stroke="#666" stroke-width="0.7" />
<line x1="274.00" y1="262.11" x2="276.00" y2="262.11" stroke="#555" stroke-width="0.7" />
<line x1="277.20" y1="243.88" x2="277.20" y2="260.70" stroke="#777" stroke-width="0.75" />
<line x1="276.20" y1="243.88" x2="278.20" y2="243.88" stroke="#666" stroke-width="0.7" />
<line x1="276.20" y1="260.70" x2="278.20" y2="260.70" stroke="#555" stroke-width="0.7" />
<line x1="279.40" y1="243.46" x2="279.40" y2="259.38" stroke="#777" stroke-width="0.75" />
<line x1="278.40" y1="243.46" x2="280.40" y2="243.46" stroke="#666" stroke-width="0.7" />
<line x1="278.40" y1="259.38" x2="280.40" y2="259.38" stroke="#555" stroke-width="0.7" />
<line x1="281.60" y1="243.12" x2="281.60" y2="258.13" stroke="#777" stroke-width="0.75" />
<line x1="280.60" y1="243.12" x2="282.60" y2="243.12" stroke="#666" stroke-width="0.7" />
<line x1="280.60" y1="258.13" x2="282.60" y2="258.13" stroke="#555" stroke-width="0.7" />
<line x1="283.80" y1="242.88" x2="283.80" y2="256.99" stroke="#777" stroke-width="0.75" />
<line x1="282.80" y1="242.88" x2="284.80" y2="242.88" stroke="#666" stroke-width="0.7" />
<line x1="282.80" y1="256.99" x2="284.80" y2="256.99" stroke="#555" stroke-width="0.7" />
<line x1="286.00" y1="242.73" x2="286.00" y2="255.93" stroke="#777" stroke-width="0.75" />
<line x1="285.00" y1="242.73" x2="287.00" y2="242.73" stroke="#666" stroke-width="0.7" />
<line x1="285.00" y1="255.93" x2="287.00" y2="255.93" stroke="#555" stroke-width="0.7" />
<line x1="288.20" y1="242.47" x2="288.20" y2="255.15" stroke="#777" stroke-width="0.75" />
<line x1="287.20" y1="242.47" x2="289.20" y2="242.47" stroke="#666" stroke-width="0.7" />
<line x1="287.20" y1="255.15" x2="289.20" y2="255.15" stroke="#555" stroke-width="0.7" />
<line x1="290.40" y1="242.26" x2="290.40" y2="254.51" stroke="#777" stroke-width="0.75" />
<line x1="289.40" y1="242.26" x2="291.40" y2="242.26" stroke="#666" stroke-width="0.7" />
<line x1="289.40" y1="254.51" x2="291.40" y2="254.51" stroke="#555" stroke-width="0.7" />
<line x1="292.60" y1="242.09" x2="292.60" y2="253.92" stroke="#777" stroke-width="0.75" />
<line x1="291.60" y1="242.09" x2="293.60" y2="242.09" stroke="#666" stroke-width="0.7" />
<line x1="291.60" y1="253.92" x2="293.60" y2="253.92" stroke="#555" stroke-width="0.7" />
<line x1="294.80" y1="241.91" x2="294.80" y2="253.32" stroke="#777" stroke-width="0.75" />
<line x1="293.80" y1="241.91" x2="295.80" y2="241.91" stroke="#666" stroke-width="0.7" />
<line x1="293.80" y1="253.32" x2="295.80" y2="253.32" stroke="#555" stroke-width="0.7" />
<line x1="297.00" y1="241.73" x2="297.00" y2="252.71" stroke="#777" stroke-width="0.75" />
<line x1="296.00" y1="241.73" x2="298.00" y2="241.73" stroke="#666" stroke-width="0.7" />
<line x1="296.00" y1="252.71" x2="298.00" y2="252.71" stroke="#555" stroke-width="0.7" />
<line x1="299.20" y1="241.62" x2="299.20" y2="252.17" stroke="#777" stroke-width="0.75" />
<line x1="298.20" y1="241.62" x2="300.20" y2="241.62" stroke="#666" stroke-width="0.7" />
<line x1="298.20" y1="252.17" x2="300.20" y2="252.17" stroke="#555" stroke-width="0.7" />
<line x1="301.40" y1="241.56" x2="301.40" y2="251.75" stroke="#777" stroke-width="0.75" />
<line x1="300.40" y1="241.56" x2="302.40" y2="241.56" stroke="#666" stroke-width="0.7" />
<line x1="300.40" y1="251.75" x2="302.40" y2="251.75" stroke="#555" stroke-width="0.7" />
<line x1="303.60" y1="241.51" x2="303.60" y2="251.38" stroke="#777" stroke-width="0.75" />
<line x1="302.60" y1="241.51" x2="304.60" y2="241.51" stroke="#666" stroke-width="0.7" />
<line x1="302.60" y1="251.38" x2="304.60" y2="251.38" stroke="#555" stroke-width="0.7" />
<line x1="305.80" y1="241.50" x2="305.80" y2="251.03" stroke="#777" stroke-width="0.75" />
<line x1="304.80" y1="241.50" x2="306.80" y2="241.50" stroke="#666" stroke-width="0.7" />
<line x1="304.80" y1="251.03" x2="306.80" y2="251.03" stroke="#555" stroke-width="0.7" />
<line x1="308.00" y1="241.51" x2="308.00" y2="250.72" stroke="#777" stroke-width="0.75" />
<line x1="307.00" y1="241.51" x2="309.00" y2="241.51" stroke="#666" stroke-width="0.7" />
<line x1="307.00" y1="250.72" x2="309.00" y2="250.72" stroke="#555" stroke-width="0.7" />
<line x1="310.20" y1="241.56" x2="310.20" y2="250.44" stroke="#777" stroke-width="0.75" />
<line x1="309.20" y1="241.56" x2="311.20" y2="241.56" stroke="#666" stroke-width="0.7" />
<line x1="309.20" y1="250.44" x2="311.20" y2="250.44" stroke="#555" stroke-width="0.7" />
<line x1="312.40" y1="241.65" x2="312.40" y2="250.20" stroke="#777" stroke-width="0.75" />
<line x1="311.40" y1="241.65" x2="313.40" y2="241.65" stroke="#666" stroke-width="0.7" />
<line x1="311.40" y1="250.20" x2="313.40" y2="250.20" stroke="#555" stroke-width="0.7" />
<line x1="314.60" y1="241.76" x2="314.60" y2="249.99" stroke="#777" stroke-width="0.75" />
<line x1="313.60" y1="241.76" x2="315.60" y2="241.76" stroke="#666" stroke-width="0.7" />
<line x1="313.60" y1="249.99" x2="315.60" y2="249.99" stroke="#555" stroke-width="0.7" />
<line x1="316.80" y1="241.90" x2="316.80" y2="249.80" stroke="#777" stroke-width="0.75" />
<line x1="315.80" y1="241.90" x2="317.80" y2="241.90" stroke="#666" stroke-width="0.7" />
<line x1="315.80" y1="249.80" x2="317.80" y2="249.80" stroke="#555" stroke-width="0.7" />
<line x1="319.00" y1="242.04" x2="319.00" y2="249.61" stroke="#777" stroke-width="0.75" />
<line x1="318.00" y1="242.04" x2="320.00" y2="242.04" stroke="#666" stroke-width="0.7" />
<line x1="318.00" y1="249.61" x2="320.00" y2="249.61" stroke="#555" stroke-width="0.7" />
<line x1="321.20" y1="242.18" x2="321.20" y2="249.43" stroke="#777" stroke-width="0.75" />
<line x1="320.20" y1="242.18" x2="322.20" y2="242.18" stroke="#666" stroke-width="0.7" />
<line x1="320.20" y1="249.43" x2="322.20" y2="249.43" stroke="#555" stroke-width="0.7" />
<line x1="209.00" y1="308.85" x2="209.00" y2="309.68" stroke="#222" stroke-width="0.7" />
<line x1="208.10" y1="308.85" x2="209.90" y2="308.85" stroke="#222" stroke-width="0.6" />
<line x1="208.10" y1="309.68" x2="209.90" y2="309.68" stroke="#222" stroke-width="0.6" />
<line x1="211.20" y1="305.38" x2="211.20" y2="306.56" stroke="#222" stroke-width="0.7" />
<line x1="210.30" y1="305.38" x2="212.10" y2="305.38" stroke="#222" stroke-width="0.6" />
<line x1="210.30" y1="306.56" x2="212.10" y2="306.56" stroke="#222" stroke-width="0.6" />
<line x1="213.40" y1="302.31" x2="213.40" y2="303.84" stroke="#222" stroke-width="0.7" />
<line x1="212.50" y1="302.31" x2="214.30" y2="302.31" stroke="#222" stroke-width="0.6" />
<line x1="212.50" y1="303.84" x2="214.30" y2="303.84" stroke="#222" stroke-width="0.6" />
<line x1="215.60" y1="299.79" x2="215.60" y2="301.68" stroke="#222" stroke-width="0.7" />
<line x1="214.70" y1="299.79" x2="216.50" y2="299.79" stroke="#222" stroke-width="0.6" />
<line x1="214.70" y1="301.68" x2="216.50" y2="301.68" stroke="#222" stroke-width="0.6" />
<line x1="217.80" y1="297.56" x2="217.80" y2="299.80" stroke="#222" stroke-width="0.7" />
<line x1="216.90" y1="297.56" x2="218.70" y2="297.56" stroke="#222" stroke-width="0.6" />
<line x1="216.90" y1="299.80" x2="218.70" y2="299.80" stroke="#222" stroke-width="0.6" />
<line x1="220.00" y1="295.46" x2="220.00" y2="298.06" stroke="#222" stroke-width="0.7" />
<line x1="219.10" y1="295.46" x2="220.90" y2="295.46" stroke="#222" stroke-width="0.6" />
<line x1="219.10" y1="298.06" x2="220.90" y2="298.06" stroke="#222" stroke-width="0.6" />
<line x1="222.20" y1="293.47" x2="222.20" y2="296.42" stroke="#222" stroke-width="0.7" />
<line x1="221.30" y1="293.47" x2="223.10" y2="293.47" stroke="#222" stroke-width="0.6" />
<line x1="221.30" y1="296.42" x2="223.10" y2="296.42" stroke="#222" stroke-width="0.6" />
<line x1="224.40" y1="291.66" x2="224.40" y2="294.91" stroke="#222" stroke-width="0.7" />
<line x1="223.50" y1="291.66" x2="225.30" y2="291.66" stroke="#222" stroke-width="0.6" />
<line x1="223.50" y1="294.91" x2="225.30" y2="294.91" stroke="#222" stroke-width="0.6" />
<line x1="226.60" y1="290.41" x2="226.60" y2="293.96" stroke="#222" stroke-width="0.7" />
<line x1="225.70" y1="290.41" x2="227.50" y2="290.41" stroke="#222" stroke-width="0.6" />
<line x1="225.70" y1="293.96" x2="227.50" y2="293.96" stroke="#222" stroke-width="0.6" />
<line x1="228.80" y1="291.03" x2="228.80" y2="294.87" stroke="#222" stroke-width="0.7" />
<line x1="227.90" y1="291.03" x2="229.70" y2="291.03" stroke="#222" stroke-width="0.6" />
<line x1="227.90" y1="294.87" x2="229.70" y2="294.87" stroke="#222" stroke-width="0.6" />
<line x1="231.00" y1="289.70" x2="231.00" y2="293.83" stroke="#222" stroke-width="0.7" />
<line x1="230.10" y1="289.70" x2="231.90" y2="289.70" stroke="#222" stroke-width="0.6" />
<line x1="230.10" y1="293.83" x2="231.90" y2="293.83" stroke="#222" stroke-width="0.6" />
<line x1="233.20" y1="287.65" x2="233.20" y2="292.12" stroke="#222" stroke-width="0.7" />
<line x1="232.30" y1="287.65" x2="234.10" y2="287.65" stroke="#222" stroke-width="0.6" />
<line x1="232.30" y1="292.12" x2="234.10" y2="292.12" stroke="#222" stroke-width="0.6" />
<line x1="235.40" y1="286.14" x2="235.40" y2="291.43" stroke="#222" stroke-width="0.7" />
<line x1="234.50" y1="286.14" x2="236.30" y2="286.14" stroke="#222" stroke-width="0.6" />
<line x1="234.50" y1="291.43" x2="236.30" y2="291.43" stroke="#222" stroke-width="0.6" />
<line x1="237.60" y1="284.69" x2="237.60" y2="290.80" stroke="#222" stroke-width="0.7" />
<line x1="236.70" y1="284.69" x2="238.50" y2="284.69" stroke="#222" stroke-width="0.6" />
<line x1="236.70" y1="290.80" x2="238.50" y2="290.80" stroke="#222" stroke-width="0.6" />
<line x1="239.80" y1="282.89" x2="239.80" y2="289.82" stroke="#222" stroke-width="0.7" />
<line x1="238.90" y1="282.89" x2="240.70" y2="282.89" stroke="#222" stroke-width="0.6" />
<line x1="238.90" y1="289.82" x2="240.70" y2="289.82" stroke="#222" stroke-width="0.6" />
<line x1="242.00" y1="280.05" x2="242.00" y2="287.97" stroke="#222" stroke-width="0.7" />
<line x1="241.10" y1="280.05" x2="242.90" y2="280.05" stroke="#222" stroke-width="0.6" />
<line x1="241.10" y1="287.97" x2="242.90" y2="287.97" stroke="#222" stroke-width="0.6" />
<line x1="244.20" y1="276.27" x2="244.20" y2="285.20" stroke="#222" stroke-width="0.7" />
<line x1="243.30" y1="276.27" x2="245.10" y2="276.27" stroke="#222" stroke-width="0.6" />
<line x1="243.30" y1="285.20" x2="245.10" y2="285.20" stroke="#222" stroke-width="0.6" />
<line x1="246.40" y1="272.21" x2="246.40" y2="282.16" stroke="#222" stroke-width="0.7" />
<line x1="245.50" y1="272.21" x2="247.30" y2="272.21" stroke="#222" stroke-width="0.6" />
<line x1="245.50" y1="282.16" x2="247.30" y2="282.16" stroke="#222" stroke-width="0.6" />
<line x1="248.60" y1="267.80" x2="248.60" y2="278.75" stroke="#222" stroke-width="0.7" />
<line x1="247.70" y1="267.80" x2="249.50" y2="267.80" stroke="#222" stroke-width="0.6" />
<line x1="247.70" y1="278.75" x2="249.50" y2="278.75" stroke="#222" stroke-width="0.6" />
<line x1="250.80" y1="263.94" x2="250.80" y2="275.65" stroke="#222" stroke-width="0.7" />
<line x1="249.90" y1="263.94" x2="251.70" y2="263.94" stroke="#222" stroke-width="0.6" />
<line x1="249.90" y1="275.65" x2="251.70" y2="275.65" stroke="#222" stroke-width="0.6" />
<line x1="253.00" y1="260.58" x2="253.00" y2="272.60" stroke="#222" stroke-width="0.7" />
<line x1="252.10" y1="260.58" x2="253.90" y2="260.58" stroke="#222" stroke-width="0.6" />
<line x1="252.10" y1="272.60" x2="253.90" y2="272.60" stroke="#222" stroke-width="0.6" />
<line x1="255.20" y1="257.36" x2="255.20" y2="269.67" stroke="#222" stroke-width="0.7" />
<line x1="254.30" y1="257.36" x2="256.10" y2="257.36" stroke="#222" stroke-width="0.6" />
<line x1="254.30" y1="269.67" x2="256.10" y2="269.67" stroke="#222" stroke-width="0.6" />
<line x1="257.40" y1="254.28" x2="257.40" y2="266.86" stroke="#222" stroke-width="0.7" />
<line x1="256.50" y1="254.28" x2="258.30" y2="254.28" stroke="#222" stroke-width="0.6" />
<line x1="256.50" y1="266.86" x2="258.30" y2="266.86" stroke="#222" stroke-width="0.6" />
<line x1="259.60" y1="251.69" x2="259.60" y2="263.85" stroke="#222" stroke-width="0.7" />
<line x1="258.70" y1="251.69" x2="260.50" y2="251.69" stroke="#222" stroke-width="0.6" />
<line x1="258.70" y1="263.85" x2="260.50" y2="263.85" stroke="#222" stroke-width="0.6" />
<line x1="261.80" y1="249.23" x2="261.80" y2="260.97" stroke="#222" stroke-width="0.7" />
<line x1="260.90" y1="249.23" x2="262.70" y2="249.23" stroke="#222" stroke-width="0.6" />
<line x1="260.90" y1="260.97" x2="262.70" y2="260.97" stroke="#222" stroke-width="0.6" />
<line x1="264.00" y1="246.91" x2="264.00" y2="258.23" stroke="#222" stroke-width="0.7" />
<line x1="263.10" y1="246.91" x2="264.90" y2="246.91" stroke="#222" stroke-width="0.6" />
<line x1="263.10" y1="258.23" x2="264.90" y2="258.23" stroke="#222" stroke-width="0.6" />
<line x1="266.20" y1="244.47" x2="266.20" y2="255.76" stroke="#222" stroke-width="0.7" />
<line x1="265.30" y1="244.47" x2="267.10" y2="244.47" stroke="#222" stroke-width="0.6" />
<line x1="265.30" y1="255.76" x2="267.10" y2="255.76" stroke="#222" stroke-width="0.6" />
<line x1="268.40" y1="242.02" x2="268.40" y2="253.43" stroke="#222" stroke-width="0.7" />
<line x1="267.50" y1="242.02" x2="269.30" y2="242.02" stroke="#222" stroke-width="0.6" />
<line x1="267.50" y1="253.43" x2="269.30" y2="253.43" stroke="#222" stroke-width="0.6" />
<line x1="270.60" y1="239.86" x2="270.60" y2="251.39" stroke="#222" stroke-width="0.7" />
<line x1="269.70" y1="239.86" x2="271.50" y2="239.86" stroke="#222" stroke-width="0.6" />
<line x1="269.70" y1="251.39" x2="271.50" y2="251.39" stroke="#222" stroke-width="0.6" />
<line x1="272.80" y1="238.24" x2="272.80" y2="249.80" stroke="#222" stroke-width="0.7" />
<line x1="271.90" y1="238.24" x2="273.70" y2="238.24" stroke="#222" stroke-width="0.6" />
<line x1="271.90" y1="249.80" x2="273.70" y2="249.80" stroke="#222" stroke-width="0.6" />
<line x1="275.00" y1="237.24" x2="275.00" y2="248.67" stroke="#222" stroke-width="0.7" />
<line x1="274.10" y1="237.24" x2="275.90" y2="237.24" stroke="#222" stroke-width="0.6" />
<line x1="274.10" y1="248.67" x2="275.90" y2="248.67" stroke="#222" stroke-width="0.6" />
<line x1="277.20" y1="236.56" x2="277.20" y2="247.87" stroke="#222" stroke-width="0.7" />
<line x1="276.30" y1="236.56" x2="278.10" y2="236.56" stroke="#222" stroke-width="0.6" />
<line x1="276.30" y1="247.87" x2="278.10" y2="247.87" stroke="#222" stroke-width="0.6" />
<line x1="279.40" y1="236.06" x2="279.40" y2="247.25" stroke="#222" stroke-width="0.7" />
<line x1="278.50" y1="236.06" x2="280.30" y2="236.06" stroke="#222" stroke-width="0.6" />
<line x1="278.50" y1="247.25" x2="280.30" y2="247.25" stroke="#222" stroke-width="0.6" />
<line x1="281.60" y1="235.78" x2="281.60" y2="246.79" stroke="#222" stroke-width="0.7" />
<line x1="280.70" y1="235.78" x2="282.50" y2="235.78" stroke="#222" stroke-width="0.6" />
<line x1="280.70" y1="246.79" x2="282.50" y2="246.79" stroke="#222" stroke-width="0.6" />
<line x1="283.80" y1="235.70" x2="283.80" y2="246.52" stroke="#222" stroke-width="0.7" />
<line x1="282.90" y1="235.70" x2="284.70" y2="235.70" stroke="#222" stroke-width="0.6" />
<line x1="282.90" y1="246.52" x2="284.70" y2="246.52" stroke="#222" stroke-width="0.6" />
<line x1="286.00" y1="235.70" x2="286.00" y2="246.34" stroke="#222" stroke-width="0.7" />
<line x1="285.10" y1="235.70" x2="286.90" y2="235.70" stroke="#222" stroke-width="0.6" />
<line x1="285.10" y1="246.34" x2="286.90" y2="246.34" stroke="#222" stroke-width="0.6" />
<line x1="288.20" y1="235.86" x2="288.20" y2="246.04" stroke="#222" stroke-width="0.7" />
<line x1="287.30" y1="235.86" x2="289.10" y2="235.86" stroke="#222" stroke-width="0.6" />
<line x1="287.30" y1="246.04" x2="289.10" y2="246.04" stroke="#222" stroke-width="0.6" />
<line x1="290.40" y1="236.12" x2="290.40" y2="245.76" stroke="#222" stroke-width="0.7" />
<line x1="289.50" y1="236.12" x2="291.30" y2="236.12" stroke="#222" stroke-width="0.6" />
<line x1="289.50" y1="245.76" x2="291.30" y2="245.76" stroke="#222" stroke-width="0.6" />
<line x1="292.60" y1="236.43" x2="292.60" y2="245.52" stroke="#222" stroke-width="0.7" />
<line x1="291.70" y1="236.43" x2="293.50" y2="236.43" stroke="#222" stroke-width="0.6" />
<line x1="291.70" y1="245.52" x2="293.50" y2="245.52" stroke="#222" stroke-width="0.6" />
<line x1="294.80" y1="236.69" x2="294.80" y2="245.36" stroke="#222" stroke-width="0.7" />
<line x1="293.90" y1="236.69" x2="295.70" y2="236.69" stroke="#222" stroke-width="0.6" />
<line x1="293.90" y1="245.36" x2="295.70" y2="245.36" stroke="#222" stroke-width="0.6" />
<line x1="297.00" y1="236.91" x2="297.00" y2="245.29" stroke="#222" stroke-width="0.7" />
<line x1="296.10" y1="236.91" x2="297.90" y2="236.91" stroke="#222" stroke-width="0.6" />
<line x1="296.10" y1="245.29" x2="297.90" y2="245.29" stroke="#222" stroke-width="0.6" />
<line x1="299.20" y1="237.19" x2="299.20" y2="245.29" stroke="#222" stroke-width="0.7" />
<line x1="298.30" y1="237.19" x2="300.10" y2="237.19" stroke="#222" stroke-width="0.6" />
<line x1="298.30" y1="245.29" x2="300.10" y2="245.29" stroke="#222" stroke-width="0.6" />
<line x1="301.40" y1="237.47" x2="301.40" y2="245.39" stroke="#222" stroke-width="0.7" />
<line x1="300.50" y1="237.47" x2="302.30" y2="237.47" stroke="#222" stroke-width="0.6" />
<line x1="300.50" y1="245.39" x2="302.30" y2="245.39" stroke="#222" stroke-width="0.6" />
<line x1="303.60" y1="237.75" x2="303.60" y2="245.55" stroke="#222" stroke-width="0.7" />
<line x1="302.70" y1="237.75" x2="304.50" y2="237.75" stroke="#222" stroke-width="0.6" />
<line x1="302.70" y1="245.55" x2="304.50" y2="245.55" stroke="#222" stroke-width="0.6" />
<line x1="305.80" y1="238.05" x2="305.80" y2="245.73" stroke="#222" stroke-width="0.7" />
<line x1="304.90" y1="238.05" x2="306.70" y2="238.05" stroke="#222" stroke-width="0.6" />
<line x1="304.90" y1="245.73" x2="306.70" y2="245.73" stroke="#222" stroke-width="0.6" />
<line x1="308.00" y1="238.34" x2="308.00" y2="245.89" stroke="#222" stroke-width="0.7" />
<line x1="307.10" y1="238.34" x2="308.90" y2="238.34" stroke="#222" stroke-width="0.6" />
<line x1="307.10" y1="245.89" x2="308.90" y2="245.89" stroke="#222" stroke-width="0.6" />
<line x1="310.20" y1="238.59" x2="310.20" y2="246.02" stroke="#222" stroke-width="0.7" />
<line x1="309.30" y1="238.59" x2="311.10" y2="238.59" stroke="#222" stroke-width="0.6" />
<line x1="309.30" y1="246.02" x2="311.10" y2="246.02" stroke="#222" stroke-width="0.6" />
<line x1="312.40" y1="238.81" x2="312.40" y2="246.12" stroke="#222" stroke-width="0.7" />
<line x1="311.50" y1="238.81" x2="313.30" y2="238.81" stroke="#222" stroke-width="0.6" />
<line x1="311.50" y1="246.12" x2="313.30" y2="246.12" stroke="#222" stroke-width="0.6" />
<line x1="314.60" y1="239.01" x2="314.60" y2="246.20" stroke="#222" stroke-width="0.7" />
<line x1="313.70" y1="239.01" x2="315.50" y2="239.01" stroke="#222" stroke-width="0.6" />
<line x1="313.70" y1="246.20" x2="315.50" y2="246.20" stroke="#222" stroke-width="0.6" />
<line x1="316.80" y1="239.20" x2="316.80" y2="246.26" stroke="#222" stroke-width="0.7" />
<line x1="315.90" y1="239.20" x2="317.70" y2="239.20" stroke="#222" stroke-width="0.6" />
<line x1="315.90" y1="246.26" x2="317.70" y2="246.26" stroke="#222" stroke-width="0.6" />
<line x1="319.00" y1="239.39" x2="319.00" y2="246.33" stroke="#222" stroke-width="0.7" />
<line x1="318.10" y1="239.39" x2="319.90" y2="239.39" stroke="#222" stroke-width="0.6" />
<line x1="318.10" y1="246.33" x2="319.90" y2="246.33" stroke="#222" stroke-width="0.6" />
<line x1="321.20" y1="239.57" x2="321.20" y2="246.39" stroke="#222" stroke-width="0.7" />
<line x1="320.30" y1="239.57" x2="322.10" y2="239.57" stroke="#222" stroke-width="0.6" />
<line x1="320.30" y1="246.39" x2="322.10" y2="246.39" stroke="#222" stroke-width="0.6" />
<line x1="209.00" y1="308.44" x2="209.00" y2="310.53" stroke="#5a78f0" stroke-width="0.65" />
<line x1="208.00" y1="308.44" x2="210.00" y2="308.44" stroke="#3a5cee" stroke-width="0.7" />
<line x1="208.00" y1="310.53" x2="210.00" y2="310.53" stroke="#3a5cee" stroke-width="0.7" />
<line x1="211.20" y1="305.37" x2="211.20" y2="307.61" stroke="#5a78f0" stroke-width="0.65" />
<line x1="210.20" y1="305.37" x2="212.20" y2="305.37" stroke="#3a5cee" stroke-width="0.7" />
<line x1="210.20" y1="307.61" x2="212.20" y2="307.61" stroke="#3a5cee" stroke-width="0.7" />
<line x1="213.40" y1="302.48" x2="213.40" y2="304.87" stroke="#5a78f0" stroke-width="0.65" />
<line x1="212.40" y1="302.48" x2="214.40" y2="302.48" stroke="#3a5cee" stroke-width="0.7" />
<line x1="212.40" y1="304.87" x2="214.40" y2="304.87" stroke="#3a5cee" stroke-width="0.7" />
<line x1="215.60" y1="300.02" x2="215.60" y2="302.55" stroke="#5a78f0" stroke-width="0.65" />
<line x1="214.60" y1="300.02" x2="216.60" y2="300.02" stroke="#3a5cee" stroke-width="0.7" />
<line x1="214.60" y1="302.55" x2="216.60" y2="302.55" stroke="#3a5cee" stroke-width="0.7" />
<line x1="217.80" y1="297.98" x2="217.80" y2="300.66" stroke="#5a78f0" stroke-width="0.65" />
<line x1="216.80" y1="297.98" x2="218.80" y2="297.98" stroke="#3a5cee" stroke-width="0.7" />
<line x1="216.80" y1="300.66" x2="218.80" y2="300.66" stroke="#3a5cee" stroke-width="0.7" />
<line x1="220.00" y1="296.30" x2="220.00" y2="299.13" stroke="#5a78f0" stroke-width="0.65" />
<line x1="219.00" y1="296.30" x2="221.00" y2="296.30" stroke="#3a5cee" stroke-width="0.7" />
<line x1="219.00" y1="299.13" x2="221.00" y2="299.13" stroke="#3a5cee" stroke-width="0.7" />
<line x1="222.20" y1="294.93" x2="222.20" y2="297.90" stroke="#5a78f0" stroke-width="0.65" />
<line x1="221.20" y1="294.93" x2="223.20" y2="294.93" stroke="#3a5cee" stroke-width="0.7" />
<line x1="221.20" y1="297.90" x2="223.20" y2="297.90" stroke="#3a5cee" stroke-width="0.7" />
<line x1="224.40" y1="293.88" x2="224.40" y2="297.00" stroke="#5a78f0" stroke-width="0.65" />
<line x1="223.40" y1="293.88" x2="225.40" y2="293.88" stroke="#3a5cee" stroke-width="0.7" />
<line x1="223.40" y1="297.00" x2="225.40" y2="297.00" stroke="#3a5cee" stroke-width="0.7" />
<line x1="226.60" y1="293.60" x2="226.60" y2="296.87" stroke="#5a78f0" stroke-width="0.65" />
<line x1="225.60" y1="293.60" x2="227.60" y2="293.60" stroke="#3a5cee" stroke-width="0.7" />
<line x1="225.60" y1="296.87" x2="227.60" y2="296.87" stroke="#3a5cee" stroke-width="0.7" />
<line x1="228.80" y1="295.57" x2="228.80" y2="298.98" stroke="#5a78f0" stroke-width="0.65" />
<line x1="227.80" y1="295.57" x2="229.80" y2="295.57" stroke="#3a5cee" stroke-width="0.7" />
<line x1="227.80" y1="298.98" x2="229.80" y2="298.98" stroke="#3a5cee" stroke-width="0.7" />
<line x1="231.00" y1="294.75" x2="231.00" y2="298.31" stroke="#5a78f0" stroke-width="0.65" />
<line x1="230.00" y1="294.75" x2="232.00" y2="294.75" stroke="#3a5cee" stroke-width="0.7" />
<line x1="230.00" y1="298.31" x2="232.00" y2="298.31" stroke="#3a5cee" stroke-width="0.7" />
<line x1="233.20" y1="292.98" x2="233.20" y2="296.69" stroke="#5a78f0" stroke-width="0.65" />
<line x1="232.20" y1="292.98" x2="234.20" y2="292.98" stroke="#3a5cee" stroke-width="0.7" />
<line x1="232.20" y1="296.69" x2="234.20" y2="296.69" stroke="#3a5cee" stroke-width="0.7" />
<line x1="235.40" y1="291.27" x2="235.40" y2="295.12" stroke="#5a78f0" stroke-width="0.65" />
<line x1="234.40" y1="291.27" x2="236.40" y2="291.27" stroke="#3a5cee" stroke-width="0.7" />
<line x1="234.40" y1="295.12" x2="236.40" y2="295.12" stroke="#3a5cee" stroke-width="0.7" />
<line x1="237.60" y1="289.76" x2="237.60" y2="293.76" stroke="#5a78f0" stroke-width="0.65" />
<line x1="236.60" y1="289.76" x2="238.60" y2="289.76" stroke="#3a5cee" stroke-width="0.7" />
<line x1="236.60" y1="293.76" x2="238.60" y2="293.76" stroke="#3a5cee" stroke-width="0.7" />
<line x1="239.80" y1="288.35" x2="239.80" y2="292.49" stroke="#5a78f0" stroke-width="0.65" />
<line x1="238.80" y1="288.35" x2="240.80" y2="288.35" stroke="#3a5cee" stroke-width="0.7" />
<line x1="238.80" y1="292.49" x2="240.80" y2="292.49" stroke="#3a5cee" stroke-width="0.7" />
<line x1="242.00" y1="286.90" x2="242.00" y2="291.19" stroke="#5a78f0" stroke-width="0.65" />
<line x1="241.00" y1="286.90" x2="243.00" y2="286.90" stroke="#3a5cee" stroke-width="0.7" />
<line x1="241.00" y1="291.19" x2="243.00" y2="291.19" stroke="#3a5cee" stroke-width="0.7" />
<line x1="244.20" y1="285.42" x2="244.20" y2="289.86" stroke="#5a78f0" stroke-width="0.65" />
<line x1="243.20" y1="285.42" x2="245.20" y2="285.42" stroke="#3a5cee" stroke-width="0.7" />
<line x1="243.20" y1="289.86" x2="245.20" y2="289.86" stroke="#3a5cee" stroke-width="0.7" />
<line x1="246.40" y1="284.01" x2="246.40" y2="288.60" stroke="#5a78f0" stroke-width="0.65" />
<line x1="245.40" y1="284.01" x2="247.40" y2="284.01" stroke="#3a5cee" stroke-width="0.7" />
<line x1="245.40" y1="288.60" x2="247.40" y2="288.60" stroke="#3a5cee" stroke-width="0.7" />
<line x1="248.60" y1="282.73" x2="248.60" y2="287.47" stroke="#5a78f0" stroke-width="0.65" />
<line x1="247.60" y1="282.73" x2="249.60" y2="282.73" stroke="#3a5cee" stroke-width="0.7" />
<line x1="247.60" y1="287.47" x2="249.60" y2="287.47" stroke="#3a5cee" stroke-width="0.7" />
<line x1="250.80" y1="281.65" x2="250.80" y2="286.53" stroke="#5a78f0" stroke-width="0.65" />
<line x1="249.80" y1="281.65" x2="251.80" y2="281.65" stroke="#3a5cee" stroke-width="0.7" />
<line x1="249.80" y1="286.53" x2="251.80" y2="286.53" stroke="#3a5cee" stroke-width="0.7" />
<line x1="253.00" y1="280.79" x2="253.00" y2="285.82" stroke="#5a78f0" stroke-width="0.65" />
<line x1="252.00" y1="280.79" x2="254.00" y2="280.79" stroke="#3a5cee" stroke-width="0.7" />
<line x1="252.00" y1="285.82" x2="254.00" y2="285.82" stroke="#3a5cee" stroke-width="0.7" />
<line x1="255.20" y1="280.10" x2="255.20" y2="285.27" stroke="#5a78f0" stroke-width="0.65" />
<line x1="254.20" y1="280.10" x2="256.20" y2="280.10" stroke="#3a5cee" stroke-width="0.7" />
<line x1="254.20" y1="285.27" x2="256.20" y2="285.27" stroke="#3a5cee" stroke-width="0.7" />
<line x1="257.40" y1="279.48" x2="257.40" y2="284.80" stroke="#5a78f0" stroke-width="0.65" />
<line x1="256.40" y1="279.48" x2="258.40" y2="279.48" stroke="#3a5cee" stroke-width="0.7" />
<line x1="256.40" y1="284.80" x2="258.40" y2="284.80" stroke="#3a5cee" stroke-width="0.7" />
<line x1="259.60" y1="278.87" x2="259.60" y2="284.33" stroke="#5a78f0" stroke-width="0.65" />
<line x1="258.60" y1="278.87" x2="260.60" y2="278.87" stroke="#3a5cee" stroke-width="0.7" />
<line x1="258.60" y1="284.33" x2="260.60" y2="284.33" stroke="#3a5cee" stroke-width="0.7" />
<line x1="261.80" y1="278.19" x2="261.80" y2="283.81" stroke="#5a78f0" stroke-width="0.65" />
<line x1="260.80" y1="278.19" x2="262.80" y2="278.19" stroke="#3a5cee" stroke-width="0.7" />
<line x1="260.80" y1="283.81" x2="262.80" y2="283.81" stroke="#3a5cee" stroke-width="0.7" />
<line x1="264.00" y1="277.42" x2="264.00" y2="283.18" stroke="#5a78f0" stroke-width="0.65" />
<line x1="263.00" y1="277.42" x2="265.00" y2="277.42" stroke="#3a5cee" stroke-width="0.7" />
<line x1="263.00" y1="283.18" x2="265.00" y2="283.18" stroke="#3a5cee" stroke-width="0.7" />
<line x1="266.20" y1="276.56" x2="266.20" y2="282.47" stroke="#5a78f0" stroke-width="0.65" />
<line x1="265.20" y1="276.56" x2="267.20" y2="276.56" stroke="#3a5cee" stroke-width="0.7" />
<line x1="265.20" y1="282.47" x2="267.20" y2="282.47" stroke="#3a5cee" stroke-width="0.7" />
<line x1="268.40" y1="275.66" x2="268.40" y2="281.72" stroke="#5a78f0" stroke-width="0.65" />
<line x1="267.40" y1="275.66" x2="269.40" y2="275.66" stroke="#3a5cee" stroke-width="0.7" />
<line x1="267.40" y1="281.72" x2="269.40" y2="281.72" stroke="#3a5cee" stroke-width="0.7" />
<line x1="270.60" y1="274.76" x2="270.60" y2="280.96" stroke="#5a78f0" stroke-width="0.65" />
<line x1="269.60" y1="274.76" x2="271.60" y2="274.76" stroke="#3a5cee" stroke-width="0.7" />
<line x1="269.60" y1="280.96" x2="271.60" y2="280.96" stroke="#3a5cee" stroke-width="0.7" />
<line x1="272.80" y1="273.88" x2="272.80" y2="280.23" stroke="#5a78f0" stroke-width="0.65" />
<line x1="271.80" y1="273.88" x2="273.80" y2="273.88" stroke="#3a5cee" stroke-width="0.7" />
<line x1="271.80" y1="280.23" x2="273.80" y2="280.23" stroke="#3a5cee" stroke-width="0.7" />
<line x1="275.00" y1="273.05" x2="275.00" y2="279.55" stroke="#5a78f0" stroke-width="0.65" />
<line x1="274.00" y1="273.05" x2="276.00" y2="273.05" stroke="#3a5cee" stroke-width="0.7" />
<line x1="274.00" y1="279.55" x2="276.00" y2="279.55" stroke="#3a5cee" stroke-width="0.7" />
<line x1="277.20" y1="272.30" x2="277.20" y2="278.94" stroke="#5a78f0" stroke-width="0.65" />
<line x1="276.20" y1="272.30" x2="278.20" y2="272.30" stroke="#3a5cee" stroke-width="0.7" />
<line x1="276.20" y1="278.94" x2="278.20" y2="278.94" stroke="#3a5cee" stroke-width="0.7" />
<line x1="279.40" y1="271.59" x2="279.40" y2="278.37" stroke="#5a78f0" stroke-width="0.65" />
<line x1="278.40" y1="271.59" x2="280.40" y2="271.59" stroke="#3a5cee" stroke-width="0.7" />
<line x1="278.40" y1="278.37" x2="280.40" y2="278.37" stroke="#3a5cee" stroke-width="0.7" />
<line x1="281.60" y1="270.90" x2="281.60" y2="277.84" stroke="#5a78f0" stroke-width="0.65" />
<line x1="280.60" y1="270.90" x2="282.60" y2="270.90" stroke="#3a5cee" stroke-width="0.7" />
<line x1="280.60" y1="277.84" x2="282.60" y2="277.84" stroke="#3a5cee" stroke-width="0.7" />
<line x1="283.80" y1="270.23" x2="283.80" y2="277.31" stroke="#5a78f0" stroke-width="0.65" />
<line x1="282.80" y1="270.23" x2="284.80" y2="270.23" stroke="#3a5cee" stroke-width="0.7" />
<line x1="282.80" y1="277.31" x2="284.80" y2="277.31" stroke="#3a5cee" stroke-width="0.7" />
<line x1="286.00" y1="269.55" x2="286.00" y2="276.78" stroke="#5a78f0" stroke-width="0.65" />
<line x1="285.00" y1="269.55" x2="287.00" y2="269.55" stroke="#3a5cee" stroke-width="0.7" />
<line x1="285.00" y1="276.78" x2="287.00" y2="276.78" stroke="#3a5cee" stroke-width="0.7" />
<line x1="288.20" y1="268.85" x2="288.20" y2="276.23" stroke="#5a78f0" stroke-width="0.65" />
<line x1="287.20" y1="268.85" x2="289.20" y2="268.85" stroke="#3a5cee" stroke-width="0.7" />
<line x1="287.20" y1="276.23" x2="289.20" y2="276.23" stroke="#3a5cee" stroke-width="0.7" />
<line x1="290.40" y1="268.13" x2="290.40" y2="275.65" stroke="#5a78f0" stroke-width="0.65" />
<line x1="289.40" y1="268.13" x2="291.40" y2="268.13" stroke="#3a5cee" stroke-width="0.7" />
<line x1="289.40" y1="275.65" x2="291.40" y2="275.65" stroke="#3a5cee" stroke-width="0.7" />
<line x1="292.60" y1="267.39" x2="292.60" y2="275.06" stroke="#5a78f0" stroke-width="0.65" />
<line x1="291.60" y1="267.39" x2="293.60" y2="267.39" stroke="#3a5cee" stroke-width="0.7" />
<line x1="291.60" y1="275.06" x2="293.60" y2="275.06" stroke="#3a5cee" stroke-width="0.7" />
<line x1="294.80" y1="266.67" x2="294.80" y2="274.48" stroke="#5a78f0" stroke-width="0.65" />
<line x1="293.80" y1="266.67" x2="295.80" y2="266.67" stroke="#3a5cee" stroke-width="0.7" />
<line x1="293.80" y1="274.48" x2="295.80" y2="274.48" stroke="#3a5cee" stroke-width="0.7" />
<line x1="297.00" y1="265.98" x2="297.00" y2="273.94" stroke="#5a78f0" stroke-width="0.65" />
<line x1="296.00" y1="265.98" x2="298.00" y2="265.98" stroke="#3a5cee" stroke-width="0.7" />
<line x1="296.00" y1="273.94" x2="298.00" y2="273.94" stroke="#3a5cee" stroke-width="0.7" />
<line x1="299.20" y1="265.34" x2="299.20" y2="273.45" stroke="#5a78f0" stroke-width="0.65" />
<line x1="298.20" y1="265.34" x2="300.20" y2="265.34" stroke="#3a5cee" stroke-width="0.7" />
<line x1="298.20" y1="273.45" x2="300.20" y2="273.45" stroke="#3a5cee" stroke-width="0.7" />
<line x1="301.40" y1="264.81" x2="301.40" y2="273.06" stroke="#5a78f0" stroke-width="0.65" />
<line x1="300.40" y1="264.81" x2="302.40" y2="264.81" stroke="#3a5cee" stroke-width="0.7" />
<line x1="300.40" y1="273.06" x2="302.40" y2="273.06" stroke="#3a5cee" stroke-width="0.7" />
<line x1="303.60" y1="264.38" x2="303.60" y2="272.78" stroke="#5a78f0" stroke-width="0.65" />
<line x1="302.60" y1="264.38" x2="304.60" y2="264.38" stroke="#3a5cee" stroke-width="0.7" />
<line x1="302.60" y1="272.78" x2="304.60" y2="272.78" stroke="#3a5cee" stroke-width="0.7" />
<line x1="305.80" y1="264.01" x2="305.80" y2="272.55" stroke="#5a78f0" stroke-width="0.65" />
<line x1="304.80" y1="264.01" x2="306.80" y2="264.01" stroke="#3a5cee" stroke-width="0.7" />
<line x1="304.80" y1="272.55" x2="306.80" y2="272.55" stroke="#3a5cee" stroke-width="0.7" />
<line x1="308.00" y1="263.62" x2="308.00" y2="272.31" stroke="#5a78f0" stroke-width="0.65" />
<line x1="307.00" y1="263.62" x2="309.00" y2="263.62" stroke="#3a5cee" stroke-width="0.7" />
<line x1="307.00" y1="272.31" x2="309.00" y2="272.31" stroke="#3a5cee" stroke-width="0.7" />
<line x1="310.20" y1="263.16" x2="310.20" y2="272.00" stroke="#5a78f0" stroke-width="0.65" />
<line x1="309.20" y1="263.16" x2="311.20" y2="263.16" stroke="#3a5cee" stroke-width="0.7" />
<line x1="309.20" y1="272.00" x2="311.20" y2="272.00" stroke="#3a5cee" stroke-width="0.7" />
<line x1="312.40" y1="262.61" x2="312.40" y2="271.60" stroke="#5a78f0" stroke-width="0.65" />
<line x1="311.40" y1="262.61" x2="313.40" y2="262.61" stroke="#3a5cee" stroke-width="0.7" />
<line x1="311.40" y1="271.60" x2="313.40" y2="271.60" stroke="#3a5cee" stroke-width="0.7" />
<line x1="314.60" y1="262.02" x2="314.60" y2="271.16" stroke="#5a78f0" stroke-width="0.65" />
<line x1="313.60" y1="262.02" x2="315.60" y2="262.02" stroke="#3a5cee" stroke-width="0.7" />
<line x1="313.60" y1="271.16" x2="315.60" y2="271.16" stroke="#3a5cee" stroke-width="0.7" />
<line x1="316.80" y1="261.42" x2="316.80" y2="270.70" stroke="#5a78f0" stroke-width="0.65" />
<line x1="315.80" y1="261.42" x2="317.80" y2="261.42" stroke="#3a5cee" stroke-width="0.7" />
<line x1="315.80" y1="270.70" x2="317.80" y2="270.70" stroke="#3a5cee" stroke-width="0.7" />
<line x1="319.00" y1="260.80" x2="319.00" y2="270.23" stroke="#5a78f0" stroke-width="0.65" />
<line x1="318.00" y1="260.80" x2="320.00" y2="260.80" stroke="#3a5cee" stroke-width="0.7" />
<line x1="318.00" y1="270.23" x2="320.00" y2="270.23" stroke="#3a5cee" stroke-width="0.7" />
<line x1="321.20" y1="260.19" x2="321.20" y2="269.76" stroke="#5a78f0" stroke-width="0.65" />
<line x1="320.20" y1="260.19" x2="322.20" y2="260.19" stroke="#3a5cee" stroke-width="0.7" />
<line x1="320.20" y1="269.76" x2="322.20" y2="269.76" stroke="#3a5cee" stroke-width="0.7" />
<polyline points="207.60,311.40 208.09,310.76 208.74,309.89 209.51,308.85 210.38,307.70 211.28,306.52 212.17,305.36 213.03,304.30 213.80,303.40 214.50,302.63 215.18,301.93 215.83,301.29 216.48,300.69 217.11,300.13 217.74,299.60 218.37,299.09 219.00,298.60 219.64,298.12 220.27,297.65 220.91,297.20 221.54,296.79 222.16,296.41 222.78,296.08 223.40,295.81 224.00,295.60 224.58,295.50 225.13,295.51 225.67,295.61 226.21,295.74 226.75,295.86 227.33,295.94 227.94,295.93 228.60,295.80 229.33,295.53 230.13,295.17 230.97,294.73 231.83,294.24 232.70,293.72 233.54,293.20 234.35,292.68 235.10,292.20 235.80,291.74 236.46,291.28 237.09,290.81 237.71,290.34 238.30,289.88 238.88,289.41 239.44,288.95 240.00,288.50 240.54,288.03 241.04,287.53 241.53,287.02 242.01,286.52 242.48,286.05 242.96,285.63 243.47,285.27 244.00,285.00 244.57,284.82 245.17,284.71 245.79,284.66 246.41,284.66 247.04,284.70 247.65,284.76 248.24,284.83 248.80,284.90 249.28,284.96 249.67,285.03 250.02,285.11 250.36,285.22 250.75,285.35 251.22,285.52 251.83,285.73 252.60,286.00 253.53,286.32 254.57,286.69 255.71,287.10 256.95,287.55 258.28,288.03 259.71,288.54 261.21,289.06 262.80,289.60 264.52,290.18 266.40,290.83 268.39,291.51 270.46,292.21 272.56,292.90 274.65,293.57 276.67,294.17 278.60,294.70 280.44,295.14 282.23,295.52 283.98,295.85 285.71,296.15 287.43,296.43 289.14,296.70 290.86,296.99 292.60,297.30 294.34,297.64 296.08,297.99 297.81,298.35 299.54,298.71 301.28,299.06 303.04,299.39 304.81,299.71 306.60,300.00 308.52,300.27 310.61,300.54 312.78,300.79 314.93,301.02 316.96,301.23 318.80,301.42 320.34,301.58 321.50,301.70" fill="none" stroke="#ff2a0c" stroke-width="2.0" stroke-linejoin="round" stroke-linecap="round" />
<polyline points="207.60,311.40 208.80,310.05 210.46,308.14 212.44,305.85 214.61,303.37 216.84,300.89 218.98,298.57 220.91,296.62 222.50,295.20 223.73,294.38 224.72,293.99 225.55,293.93 226.28,294.06 226.97,294.25 227.69,294.39 228.51,294.35 229.50,294.00 230.65,293.38 231.89,292.61 233.20,291.74 234.56,290.77 235.95,289.74 237.33,288.66 238.69,287.58 240.00,286.50 241.29,285.40 242.61,284.23 243.92,283.02 245.22,281.78 246.49,280.54 247.72,279.32 248.90,278.13 250.00,277.00 251.01,275.92 251.95,274.88 252.82,273.87 253.65,272.88 254.46,271.90 255.28,270.93 256.12,269.97 257.00,269.00 257.92,268.03 258.86,267.07 259.82,266.11 260.78,265.16 261.75,264.22 262.71,263.29 263.66,262.39 264.60,261.50 265.53,260.62 266.45,259.73 267.36,258.86 268.27,258.00 269.18,257.17 270.08,256.39 270.99,255.66 271.90,255.00 272.81,254.41 273.72,253.89 274.64,253.42 275.55,252.99 276.46,252.59 277.37,252.22 278.29,251.86 279.20,251.50 280.11,251.15 281.02,250.82 281.94,250.51 282.85,250.22 283.76,249.94 284.68,249.68 285.59,249.44 286.50,249.20 287.42,248.98 288.35,248.78 289.29,248.59 290.22,248.42 291.14,248.26 292.05,248.10 292.94,247.95 293.80,247.80 294.60,247.65 295.34,247.52 296.03,247.39 296.73,247.26 297.44,247.14 298.20,247.03 299.05,246.91 300.00,246.80 301.07,246.69 302.22,246.57 303.44,246.46 304.72,246.35 306.05,246.25 307.39,246.15 308.75,246.07 310.10,246.00 311.54,245.94 313.13,245.90 314.78,245.87 316.43,245.85 318.00,245.83 319.42,245.82 320.61,245.81 321.50,245.80" fill="none" stroke="#8a8a8a" stroke-width="1.4" stroke-linejoin="round" stroke-linecap="round" />
<polyline points="207.60,311.40 208.09,310.74 208.74,309.85 209.51,308.78 210.38,307.60 211.28,306.39 212.17,305.20 213.03,304.12 213.80,303.20 214.50,302.43 215.16,301.72 215.81,301.07 216.44,300.47 217.07,299.92 217.70,299.39 218.34,298.89 219.00,298.40 219.69,297.92 220.41,297.45 221.14,297.00 221.87,296.59 222.59,296.21 223.27,295.88 223.92,295.61 224.50,295.40 225.03,295.26 225.52,295.19 225.97,295.17 226.39,295.20 226.78,295.27 227.14,295.36 227.48,295.48 227.80,295.60 228.06,295.79 228.25,296.07 228.38,296.41 228.51,296.76 228.65,297.08 228.84,297.32 229.11,297.44 229.50,297.40 230.02,297.17 230.64,296.79 231.35,296.29 232.10,295.71 232.88,295.09 233.66,294.47 234.41,293.90 235.10,293.40 235.71,292.99 236.24,292.63 236.74,292.30 237.24,291.98 237.78,291.64 238.40,291.26 239.12,290.82 240.00,290.30 241.03,289.66 242.19,288.93 243.45,288.12 244.79,287.28 246.18,286.43 247.62,285.61 249.06,284.86 250.50,284.20 251.95,283.64 253.45,283.16 254.99,282.74 256.54,282.34 258.12,281.96 259.69,281.58 261.25,281.16 262.80,280.70 264.33,280.19 265.85,279.64 267.38,279.08 268.90,278.50 270.42,277.92 271.95,277.36 273.47,276.81 275.00,276.30 276.53,275.82 278.07,275.36 279.61,274.92 281.14,274.49 282.68,274.07 284.22,273.65 285.76,273.23 287.30,272.80 288.85,272.35 290.42,271.88 291.99,271.41 293.56,270.94 295.12,270.48 296.65,270.05 298.15,269.65 299.60,269.30 300.99,269.01 302.33,268.77 303.63,268.57 304.91,268.40 306.18,268.23 307.45,268.05 308.76,267.85 310.10,267.60 311.56,267.29 313.15,266.93 314.81,266.54 316.46,266.14 318.02,265.76 319.43,265.41 320.61,265.12 321.50,264.90" fill="none" stroke="#1a3fe6" stroke-width="1.8" stroke-linejoin="round" stroke-linecap="round" />
<polyline points="207.60,311.40 208.06,310.71 208.66,309.80 209.36,308.70 210.16,307.49 211.02,306.22 211.93,304.94 212.86,303.72 213.80,302.60 214.80,301.53 215.90,300.44 217.07,299.34 218.26,298.26 219.44,297.23 220.57,296.28 221.60,295.43 222.50,294.70 223.27,294.10 223.94,293.60 224.54,293.18 225.08,292.85 225.57,292.59 226.03,292.38 226.47,292.22 226.90,292.10 227.30,292.07 227.66,292.17 227.97,292.35 228.26,292.58 228.54,292.79 228.83,292.97 229.14,293.05 229.50,293.00 229.87,292.82 230.23,292.54 230.59,292.20 230.97,291.79 231.39,291.35 231.86,290.90 232.39,290.44 233.00,290.00 233.72,289.58 234.55,289.17 235.46,288.76 236.41,288.33 237.37,287.87 238.31,287.37 239.20,286.82 240.00,286.20 240.72,285.51 241.39,284.77 242.02,283.98 242.62,283.14 243.21,282.27 243.80,281.37 244.39,280.44 245.00,279.50 245.61,278.54 246.20,277.54 246.77,276.52 247.36,275.47 247.96,274.40 248.59,273.29 249.26,272.16 250.00,271.00 250.80,269.79 251.66,268.52 252.57,267.20 253.51,265.87 254.46,264.53 255.42,263.21 256.37,261.93 257.30,260.70 258.21,259.52 259.12,258.36 260.04,257.22 260.95,256.11 261.86,255.02 262.78,253.96 263.69,252.92 264.60,251.90 265.51,250.89 266.43,249.87 267.34,248.86 268.25,247.88 269.16,246.95 270.07,246.08 270.99,245.29 271.90,244.60 272.81,244.01 273.72,243.51 274.64,243.09 275.55,242.74 276.46,242.43 277.37,242.17 278.29,241.93 279.20,241.70 280.11,241.50 281.02,241.35 281.94,241.25 282.85,241.17 283.76,241.11 284.68,241.07 285.59,241.04 286.50,241.00 287.42,240.96 288.35,240.94 289.29,240.94 290.22,240.94 291.14,240.95 292.05,240.96 292.94,240.98 293.80,241.00 294.60,241.02 295.34,241.04 296.03,241.06 296.73,241.09 297.44,241.12 298.20,241.17 299.05,241.23 300.00,241.30 301.07,241.39 302.22,241.51 303.44,241.64 304.72,241.78 306.05,241.92 307.39,242.05 308.75,242.18 310.10,242.30 311.54,242.41 313.13,242.51 314.78,242.62 316.43,242.71 318.00,242.80 319.42,242.88 320.61,242.95 321.50,243.00" fill="none" stroke="#000" stroke-width="1.8" stroke-linejoin="round" stroke-linecap="round" />
<polyline points="244.00,285.00 244.57,284.82 245.17,284.71 245.79,284.66 246.41,284.66 247.04,284.70 247.65,284.76 248.24,284.83 248.80,284.90 249.28,284.96 249.67,285.03 250.02,285.11 250.36,285.22 250.75,285.35 251.22,285.52 251.83,285.73 252.60,286.00 253.53,286.32 254.57,286.69 255.71,287.10 256.95,287.55 258.28,288.03 259.71,288.54 261.21,289.06 262.80,289.60 264.52,290.18 266.40,290.83 268.39,291.51 270.46,292.21 272.56,292.90 274.65,293.57 276.67,294.17 278.60,294.70 280.44,295.14 282.23,295.52 283.98,295.85 285.71,296.15 287.43,296.43 289.14,296.70 290.86,296.99 292.60,297.30 294.34,297.64 296.08,297.99 297.81,298.35 299.54,298.71 301.28,299.06 303.04,299.39 304.81,299.71 306.60,300.00 308.52,300.27 310.61,300.54 312.78,300.79 314.93,301.02 316.96,301.23 318.80,301.42 320.34,301.58 321.50,301.70" fill="none" stroke="#ff2a0c" stroke-width="2.0" stroke-linejoin="round" stroke-linecap="round" />
<line x1="228.80" y1="223.20" x2="228.80" y2="312.00" stroke="#f4705a" stroke-width="1.6" stroke-dasharray="2.6 1.6"/>
<line x1="363.50" y1="222.00" x2="363.50" y2="312.90" stroke="#1a1a1a" stroke-width="1.0" />
<line x1="359.00" y1="312.50" x2="363.50" y2="312.50" stroke="#1a1a1a" stroke-width="1.0" />
<text x="0" y="0" font-size="10.5" text-anchor="end" transform="translate(356.20 316.18) scale(1 1.0)">0</text>
<line x1="359.00" y1="294.50" x2="363.50" y2="294.50" stroke="#1a1a1a" stroke-width="1.0" />
<text x="0" y="0" font-size="10.5" text-anchor="end" transform="translate(356.20 298.20) scale(1 1.0)">2</text>
<line x1="359.00" y1="276.50" x2="363.50" y2="276.50" stroke="#1a1a1a" stroke-width="1.0" />
<text x="0" y="0" font-size="10.5" text-anchor="end" transform="translate(356.20 280.22) scale(1 1.0)">4</text>
<line x1="359.00" y1="258.50" x2="363.50" y2="258.50" stroke="#1a1a1a" stroke-width="1.0" />
<text x="0" y="0" font-size="10.5" text-anchor="end" transform="translate(356.20 262.24) scale(1 1.0)">6</text>
<line x1="359.00" y1="240.50" x2="363.50" y2="240.50" stroke="#1a1a1a" stroke-width="1.0" />
<text x="0" y="0" font-size="10.5" text-anchor="end" transform="translate(356.20 244.26) scale(1 1.0)">8</text>
<line x1="359.00" y1="222.50" x2="363.50" y2="222.50" stroke="#1a1a1a" stroke-width="1.0" />
<text x="0" y="0" font-size="10.5" text-anchor="end" transform="translate(356.20 226.28) scale(1 1.0)">10</text>
<line x1="363.00" y1="312.50" x2="473.70" y2="312.50" stroke="#1a1a1a" stroke-width="1.0" />
<line x1="393.50" y1="312.50" x2="393.50" y2="317.00" stroke="#1a1a1a" stroke-width="1.0" />
<line x1="448.50" y1="312.50" x2="448.50" y2="317.00" stroke="#1a1a1a" stroke-width="1.0" />
<rect x="371.20" y="310.15" width="7.60" height="2.25" fill="#000" stroke="#111" stroke-width="0.8"/>
<line x1="375.00" y1="309.25" x2="375.00" y2="311.05" stroke="#8c8c8c" stroke-width="0.9" />
<line x1="372.60" y1="309.25" x2="377.40" y2="309.25" stroke="#8c8c8c" stroke-width="0.9" />
<line x1="372.60" y1="311.05" x2="377.40" y2="311.05" stroke="#8c8c8c" stroke-width="0.9" />
<rect x="383.40" y="310.15" width="7.40" height="2.25" fill="#a6a6a6" stroke="#111" stroke-width="0.8"/>
<line x1="387.10" y1="309.25" x2="387.10" y2="311.05" stroke="#8c8c8c" stroke-width="0.9" />
<line x1="384.70" y1="309.25" x2="389.50" y2="309.25" stroke="#8c8c8c" stroke-width="0.9" />
<line x1="384.70" y1="311.05" x2="389.50" y2="311.05" stroke="#8c8c8c" stroke-width="0.9" />
<rect x="395.40" y="310.15" width="7.20" height="2.25" fill="#ff2a0c" stroke="#111" stroke-width="0.8"/>
<line x1="399.00" y1="309.25" x2="399.00" y2="311.05" stroke="#8c8c8c" stroke-width="0.9" />
<line x1="396.60" y1="309.25" x2="401.40" y2="309.25" stroke="#8c8c8c" stroke-width="0.9" />
<line x1="396.60" y1="311.05" x2="401.40" y2="311.05" stroke="#8c8c8c" stroke-width="0.9" />
<rect x="407.20" y="310.15" width="7.20" height="2.25" fill="#1a3fe6" stroke="#111" stroke-width="0.8"/>
<line x1="410.80" y1="309.25" x2="410.80" y2="311.05" stroke="#8c8c8c" stroke-width="0.9" />
<line x1="408.40" y1="309.25" x2="413.20" y2="309.25" stroke="#8c8c8c" stroke-width="0.9" />
<line x1="408.40" y1="311.05" x2="413.20" y2="311.05" stroke="#8c8c8c" stroke-width="0.9" />
<rect x="427.00" y="244.97" width="7.40" height="67.42" fill="#000" stroke="#111" stroke-width="0.8"/>
<line x1="430.70" y1="240.48" x2="430.70" y2="250.37" stroke="#8c8c8c" stroke-width="0.9" />
<line x1="428.30" y1="240.48" x2="433.10" y2="240.48" stroke="#8c8c8c" stroke-width="0.9" />
<line x1="428.30" y1="250.37" x2="433.10" y2="250.37" stroke="#8c8c8c" stroke-width="0.9" />
<rect x="438.70" y="246.32" width="7.40" height="66.08" fill="#a6a6a6" stroke="#111" stroke-width="0.8"/>
<line x1="442.40" y1="238.68" x2="442.40" y2="253.96" stroke="#8c8c8c" stroke-width="0.9" />
<line x1="440.00" y1="238.68" x2="444.80" y2="238.68" stroke="#8c8c8c" stroke-width="0.9" />
<line x1="440.00" y1="253.96" x2="444.80" y2="253.96" stroke="#8c8c8c" stroke-width="0.9" />
<rect x="450.60" y="303.41" width="7.30" height="8.99" fill="#ff2a0c" stroke="#111" stroke-width="0.8"/>
<line x1="454.25" y1="299.81" x2="454.25" y2="306.11" stroke="#8c8c8c" stroke-width="0.9" />
<line x1="451.85" y1="299.81" x2="456.65" y2="299.81" stroke="#8c8c8c" stroke-width="0.9" />
<line x1="451.85" y1="306.11" x2="456.65" y2="306.11" stroke="#8c8c8c" stroke-width="0.9" />
<rect x="462.40" y="271.05" width="7.40" height="41.35" fill="#1a3fe6" stroke="#111" stroke-width="0.8"/>
<line x1="466.10" y1="264.75" x2="466.10" y2="277.34" stroke="#8c8c8c" stroke-width="0.9" />
<line x1="463.70" y1="264.75" x2="468.50" y2="264.75" stroke="#8c8c8c" stroke-width="0.9" />
<line x1="463.70" y1="277.34" x2="468.50" y2="277.34" stroke="#8c8c8c" stroke-width="0.9" />
<text x="0" y="0" font-size="10.3" text-anchor="middle" transform="translate(393.00 326.91) scale(1 1.0)">0 h</text>
<text x="0" y="0" font-size="10.3" text-anchor="middle" transform="translate(448.50 326.91) scale(1 1.0)">96 h</text>
<text x="0" y="0" font-size="10.2" text-anchor="middle" transform="translate(420.40 348.27) scale(1 1.0)">GC7 10 µM</text>
<text x="0" y="3.71" font-size="10.3" text-anchor="middle" transform="translate(343.60 260.60) rotate(-90) scale(1 1.12)">Cell index</text>
<polyline points="442.20,213.40 442.20,208.90 466.30,208.90 466.30,213.40" fill="none" stroke="#222" stroke-width="0.9"/>
<text x="454.45" y="208.52" font-size="9.6" letter-spacing="0.35" text-anchor="middle">****</text>
<polyline points="430.90,232.50 430.90,225.70 454.00,225.70 454.00,232.50" fill="none" stroke="#222" stroke-width="0.9"/>
<text x="442.65" y="225.52" font-size="9.6" letter-spacing="0.35" text-anchor="middle">****</text>
<polyline points="454.00,258.00 454.00,252.80 466.30,252.80 466.30,258.00" fill="none" stroke="#222" stroke-width="0.9"/>
<text x="460.35" y="251.02" font-size="9.6" letter-spacing="0.35" text-anchor="middle">****</text>
<text x="493.30" y="187.80" font-size="15" font-weight="bold">g</text>
<line x1="636.10" y1="201.50" x2="645.00" y2="201.50" stroke="#585858" stroke-width="2.6" />
<text x="0" y="0" font-size="9.0" transform="translate(651.60 204.74) scale(1 1.0)">G1</text>
<line x1="636.10" y1="216.60" x2="645.00" y2="216.60" stroke="#e8602a" stroke-width="2.6" />
<text x="0" y="0" font-size="9.0" transform="translate(651.60 219.84) scale(1 1.0)">S-phase</text>
<line x1="636.10" y1="232.20" x2="645.00" y2="232.20" stroke="#9048d4" stroke-width="2.6" />
<text x="0" y="0" font-size="9.0" transform="translate(651.60 235.44) scale(1 1.0)">G2</text>
<line x1="549.50" y1="225.20" x2="549.50" y2="311.20" stroke="#1a1a1a" stroke-width="1.0" />
<line x1="542.90" y1="310.50" x2="549.50" y2="310.50" stroke="#1a1a1a" stroke-width="1.0" />
<text x="0" y="0" font-size="10.4" text-anchor="end" transform="translate(540.10 314.44) scale(1 1.0)">0</text>
<line x1="542.90" y1="289.50" x2="549.50" y2="289.50" stroke="#1a1a1a" stroke-width="1.0" />
<text x="0" y="0" font-size="10.4" text-anchor="end" transform="translate(540.10 293.19) scale(1 1.0)">25</text>
<line x1="542.90" y1="268.50" x2="549.50" y2="268.50" stroke="#1a1a1a" stroke-width="1.0" />
<text x="0" y="0" font-size="10.4" text-anchor="end" transform="translate(540.10 271.94) scale(1 1.0)">50</text>
<line x1="542.90" y1="246.50" x2="549.50" y2="246.50" stroke="#1a1a1a" stroke-width="1.0" />
<text x="0" y="0" font-size="10.4" text-anchor="end" transform="translate(540.10 250.69) scale(1 1.0)">75</text>
<line x1="542.90" y1="225.50" x2="549.50" y2="225.50" stroke="#1a1a1a" stroke-width="1.0" />
<text x="0" y="0" font-size="10.4" text-anchor="end" transform="translate(540.10 229.44) scale(1 1.0)">100</text>
<line x1="549.00" y1="310.50" x2="656.20" y2="310.50" stroke="#1a1a1a" stroke-width="1.0" />
<line x1="562.50" y1="310.50" x2="562.50" y2="317.50" stroke="#1a1a1a" stroke-width="1.0" />
<line x1="589.50" y1="310.50" x2="589.50" y2="317.50" stroke="#1a1a1a" stroke-width="1.0" />
<line x1="616.50" y1="310.50" x2="616.50" y2="317.50" stroke="#1a1a1a" stroke-width="1.0" />
<line x1="643.50" y1="310.50" x2="643.50" y2="317.50" stroke="#1a1a1a" stroke-width="1.0" />
<rect x="551.70" y="257.70" width="5.90" height="53.00" fill="#585858" stroke="#111" stroke-width="0.7"/>
<line x1="554.65" y1="252.30" x2="554.65" y2="263.30" stroke="#111" stroke-width="0.9" />
<line x1="552.65" y1="252.30" x2="556.65" y2="252.30" stroke="#111" stroke-width="0.9" />
<line x1="552.65" y1="263.30" x2="556.65" y2="263.30" stroke="#111" stroke-width="0.9" />
<rect x="559.70" y="286.10" width="6.00" height="24.60" fill="#e8602a" stroke="#111" stroke-width="0.7"/>
<line x1="562.70" y1="280.80" x2="562.70" y2="291.40" stroke="#111" stroke-width="0.9" />
<line x1="560.70" y1="280.80" x2="564.70" y2="280.80" stroke="#111" stroke-width="0.9" />
<line x1="560.70" y1="291.40" x2="564.70" y2="291.40" stroke="#111" stroke-width="0.9" />
<rect x="567.80" y="304.70" width="5.80" height="6.00" fill="#9048d4" stroke="#111" stroke-width="0.7"/>
<line x1="570.70" y1="303.80" x2="570.70" y2="305.50" stroke="#111" stroke-width="0.9" />
<line x1="568.70" y1="303.80" x2="572.70" y2="303.80" stroke="#111" stroke-width="0.9" />
<line x1="568.70" y1="305.50" x2="572.70" y2="305.50" stroke="#111" stroke-width="0.9" />
<rect x="579.20" y="242.30" width="5.80" height="68.40" fill="#585858" stroke="#111" stroke-width="0.7"/>
<line x1="582.10" y1="239.10" x2="582.10" y2="245.80" stroke="#111" stroke-width="0.9" />
<line x1="580.10" y1="239.10" x2="584.10" y2="239.10" stroke="#111" stroke-width="0.9" />
<line x1="580.10" y1="245.80" x2="584.10" y2="245.80" stroke="#111" stroke-width="0.9" />
<rect x="587.00" y="297.70" width="5.80" height="13.00" fill="#e8602a" stroke="#111" stroke-width="0.7"/>
<line x1="589.90" y1="293.10" x2="589.90" y2="302.20" stroke="#111" stroke-width="0.9" />
<line x1="587.90" y1="293.10" x2="591.90" y2="293.10" stroke="#111" stroke-width="0.9" />
<line x1="587.90" y1="302.20" x2="591.90" y2="302.20" stroke="#111" stroke-width="0.9" />
<rect x="594.80" y="308.20" width="5.90" height="2.50" fill="#9048d4" stroke="#111" stroke-width="0.7"/>
<line x1="597.75" y1="304.50" x2="597.75" y2="310.70" stroke="#111" stroke-width="0.9" />
<line x1="595.75" y1="304.50" x2="599.75" y2="304.50" stroke="#111" stroke-width="0.9" />
<line x1="595.75" y1="310.70" x2="599.75" y2="310.70" stroke="#111" stroke-width="0.9" />
<rect x="606.30" y="261.20" width="5.80" height="49.50" fill="#585858" stroke="#111" stroke-width="0.7"/>
<line x1="609.20" y1="256.30" x2="609.20" y2="267.20" stroke="#111" stroke-width="0.9" />
<line x1="607.20" y1="256.30" x2="611.20" y2="256.30" stroke="#111" stroke-width="0.9" />
<line x1="607.20" y1="267.20" x2="611.20" y2="267.20" stroke="#111" stroke-width="0.9" />
<rect x="614.20" y="286.60" width="5.80" height="24.10" fill="#e8602a" stroke="#111" stroke-width="0.7"/>
<line x1="617.10" y1="284.30" x2="617.10" y2="288.70" stroke="#111" stroke-width="0.9" />
<line x1="615.10" y1="284.30" x2="619.10" y2="284.30" stroke="#111" stroke-width="0.9" />
<line x1="615.10" y1="288.70" x2="619.10" y2="288.70" stroke="#111" stroke-width="0.9" />
<rect x="622.10" y="300.10" width="5.70" height="10.60" fill="#9048d4" stroke="#111" stroke-width="0.7"/>
<line x1="624.95" y1="295.70" x2="624.95" y2="303.60" stroke="#111" stroke-width="0.9" />
<line x1="622.95" y1="295.70" x2="626.95" y2="295.70" stroke="#111" stroke-width="0.9" />
<line x1="622.95" y1="303.60" x2="626.95" y2="303.60" stroke="#111" stroke-width="0.9" />
<rect x="633.10" y="259.30" width="5.80" height="51.40" fill="#585858" stroke="#111" stroke-width="0.7"/>
<line x1="636.00" y1="255.40" x2="636.00" y2="261.60" stroke="#111" stroke-width="0.9" />
<line x1="634.00" y1="255.40" x2="638.00" y2="255.40" stroke="#111" stroke-width="0.9" />
<line x1="634.00" y1="261.60" x2="638.00" y2="261.60" stroke="#111" stroke-width="0.9" />
<rect x="641.20" y="285.20" width="5.80" height="25.50" fill="#e8602a" stroke="#111" stroke-width="0.7"/>
<line x1="644.10" y1="279.40" x2="644.10" y2="288.40" stroke="#111" stroke-width="0.9" />
<line x1="642.10" y1="279.40" x2="646.10" y2="279.40" stroke="#111" stroke-width="0.9" />
<line x1="642.10" y1="288.40" x2="646.10" y2="288.40" stroke="#111" stroke-width="0.9" />
<rect x="649.20" y="304.50" width="5.80" height="6.20" fill="#9048d4" stroke="#111" stroke-width="0.7"/>
<line x1="652.10" y1="302.40" x2="652.10" y2="305.90" stroke="#111" stroke-width="0.9" />
<line x1="650.10" y1="302.40" x2="654.10" y2="302.40" stroke="#111" stroke-width="0.9" />
<line x1="650.10" y1="305.90" x2="654.10" y2="305.90" stroke="#111" stroke-width="0.9" />
<polyline points="562.20,213.90 562.20,209.40 589.10,209.40 589.10,213.90" fill="none" stroke="#222" stroke-width="0.9"/>
<text x="575.85" y="208.92" font-size="9.6" letter-spacing="0.35" text-anchor="middle">**</text>
<polyline points="591.40,213.90 591.40,209.40 618.60,209.40 618.60,213.90" fill="none" stroke="#222" stroke-width="0.9"/>
<text x="605.20" y="208.92" font-size="9.6" letter-spacing="0.35" text-anchor="middle">**</text>
<polyline points="554.30,230.90 554.30,226.20 581.40,226.20 581.40,230.90" fill="none" stroke="#222" stroke-width="0.9"/>
<text x="568.05" y="225.92" font-size="9.6" letter-spacing="0.35" text-anchor="middle">***</text>
<polyline points="583.50,230.90 583.50,226.20 610.70,226.20 610.70,230.90" fill="none" stroke="#222" stroke-width="0.9"/>
<text x="597.30" y="225.92" font-size="9.6" letter-spacing="0.35" text-anchor="middle">****</text>
<text x="0" y="3.78" font-size="10.5" text-anchor="middle" transform="translate(513.60 264.30) rotate(-90) scale(1 0.9)">Cell population (%)</text>
<text x="0" y="0" font-size="10.0" text-anchor="end" transform="translate(564.90 326.6) rotate(-45)">Ct</text>
<text x="0" y="0" font-size="10.0" text-anchor="end" transform="translate(591.60 326.6) rotate(-45)">GC7</text>
<text x="0" y="0" font-size="10.0" text-anchor="end" transform="translate(619.00 326.6) rotate(-45)">GC7 + ISRIB</text>
<text x="0" y="0" font-size="10.0" text-anchor="end" transform="translate(645.90 326.6) rotate(-45)">ISRIB</text>
<text x="9.20" y="384.30" font-size="15" font-weight="bold">h</text>
<line x1="42.70" y1="395.20" x2="52.80" y2="395.20" stroke="#000" stroke-width="2.6" />
<text x="0" y="0" font-size="9.0" transform="translate(58.20 398.44) scale(1 1.0)">WT</text>
<line x1="42.70" y1="406.20" x2="52.80" y2="406.20" stroke="#a6a6a6" stroke-width="2.6" />
<text x="0" y="0" font-size="9.0" transform="translate(58.20 409.44) scale(1 1.0)">S51A</text>
<line x1="32.50" y1="429.00" x2="32.50" y2="524.80" stroke="#1a1a1a" stroke-width="1.0" />
<line x1="27.50" y1="524.50" x2="32.50" y2="524.50" stroke="#1a1a1a" stroke-width="1.0" />
<text x="0" y="0" font-size="10.2" text-anchor="end" transform="translate(25.00 527.97) scale(1 1.0)">0</text>
<line x1="27.50" y1="505.50" x2="32.50" y2="505.50" stroke="#1a1a1a" stroke-width="1.0" />
<text x="0" y="0" font-size="10.2" text-anchor="end" transform="translate(25.00 509.01) scale(1 1.0)">1</text>
<line x1="27.50" y1="486.50" x2="32.50" y2="486.50" stroke="#1a1a1a" stroke-width="1.0" />
<text x="0" y="0" font-size="10.2" text-anchor="end" transform="translate(25.00 490.05) scale(1 1.0)">2</text>
<line x1="27.50" y1="467.50" x2="32.50" y2="467.50" stroke="#1a1a1a" stroke-width="1.0" />
<text x="0" y="0" font-size="10.2" text-anchor="end" transform="translate(25.00 471.09) scale(1 1.0)">3</text>
<line x1="27.50" y1="448.50" x2="32.50" y2="448.50" stroke="#1a1a1a" stroke-width="1.0" />
<text x="0" y="0" font-size="10.2" text-anchor="end" transform="translate(25.00 452.13) scale(1 1.0)">4</text>
<line x1="27.50" y1="429.50" x2="32.50" y2="429.50" stroke="#1a1a1a" stroke-width="1.0" />
<text x="0" y="0" font-size="10.2" text-anchor="end" transform="translate(25.00 433.17) scale(1 1.0)">5</text>
<line x1="32.00" y1="524.50" x2="138.50" y2="524.50" stroke="#1a1a1a" stroke-width="1.0" />
<line x1="58.50" y1="524.50" x2="58.50" y2="528.70" stroke="#1a1a1a" stroke-width="1.0" />
<line x1="113.50" y1="524.50" x2="113.50" y2="528.70" stroke="#1a1a1a" stroke-width="1.0" />
<rect x="36.70" y="521.46" width="8.00" height="2.84" fill="#000" stroke="#111" stroke-width="0.8"/>
<line x1="40.70" y1="519.56" x2="40.70" y2="522.78" stroke="#8c8c8c" stroke-width="0.9" />
<line x1="38.10" y1="519.56" x2="43.30" y2="519.56" stroke="#8c8c8c" stroke-width="0.9" />
<line x1="38.10" y1="522.78" x2="43.30" y2="522.78" stroke="#8c8c8c" stroke-width="0.9" />
<rect x="48.90" y="507.24" width="7.70" height="17.06" fill="#a6a6a6" stroke="#111" stroke-width="0.8"/>
<line x1="52.75" y1="502.50" x2="52.75" y2="511.98" stroke="#8c8c8c" stroke-width="0.9" />
<line x1="50.15" y1="502.50" x2="55.35" y2="502.50" stroke="#8c8c8c" stroke-width="0.9" />
<line x1="50.15" y1="511.98" x2="55.35" y2="511.98" stroke="#8c8c8c" stroke-width="0.9" />
<rect x="60.80" y="519.56" width="7.90" height="4.74" fill="#000" stroke="#111" stroke-width="0.8"/>
<line x1="64.75" y1="516.34" x2="64.75" y2="522.02" stroke="#8c8c8c" stroke-width="0.9" />
<line x1="62.15" y1="516.34" x2="67.35" y2="516.34" stroke="#8c8c8c" stroke-width="0.9" />
<line x1="62.15" y1="522.02" x2="67.35" y2="522.02" stroke="#8c8c8c" stroke-width="0.9" />
<rect x="72.70" y="498.70" width="7.90" height="25.60" fill="#a6a6a6" stroke="#111" stroke-width="0.8"/>
<line x1="76.65" y1="494.91" x2="76.65" y2="502.50" stroke="#8c8c8c" stroke-width="0.9" />
<line x1="74.05" y1="494.91" x2="79.25" y2="494.91" stroke="#8c8c8c" stroke-width="0.9" />
<line x1="74.05" y1="502.50" x2="79.25" y2="502.50" stroke="#8c8c8c" stroke-width="0.9" />
<rect x="91.80" y="467.42" width="8.00" height="56.88" fill="#000" stroke="#111" stroke-width="0.8"/>
<line x1="95.80" y1="448.08" x2="95.80" y2="486.38" stroke="#8c8c8c" stroke-width="0.9" />
<line x1="93.20" y1="448.08" x2="98.40" y2="448.08" stroke="#8c8c8c" stroke-width="0.9" />
<line x1="93.20" y1="486.38" x2="98.40" y2="486.38" stroke="#8c8c8c" stroke-width="0.9" />
<rect x="103.70" y="462.68" width="8.00" height="61.62" fill="#a6a6a6" stroke="#111" stroke-width="0.8"/>
<line x1="107.70" y1="457.56" x2="107.70" y2="468.37" stroke="#8c8c8c" stroke-width="0.9" />
<line x1="105.10" y1="457.56" x2="110.30" y2="457.56" stroke="#8c8c8c" stroke-width="0.9" />
<line x1="105.10" y1="468.37" x2="110.30" y2="468.37" stroke="#8c8c8c" stroke-width="0.9" />
<rect x="115.90" y="504.01" width="7.70" height="20.29" fill="#000" stroke="#111" stroke-width="0.8"/>
<line x1="119.75" y1="488.28" x2="119.75" y2="518.61" stroke="#8c8c8c" stroke-width="0.9" />
<line x1="117.15" y1="488.28" x2="122.35" y2="488.28" stroke="#8c8c8c" stroke-width="0.9" />
<line x1="117.15" y1="518.61" x2="122.35" y2="518.61" stroke="#8c8c8c" stroke-width="0.9" />
<rect x="127.80" y="471.59" width="7.90" height="52.71" fill="#a6a6a6" stroke="#111" stroke-width="0.8"/>
<line x1="131.75" y1="455.10" x2="131.75" y2="488.28" stroke="#8c8c8c" stroke-width="0.9" />
<line x1="129.15" y1="455.10" x2="134.35" y2="455.10" stroke="#8c8c8c" stroke-width="0.9" />
<line x1="129.15" y1="488.28" x2="134.35" y2="488.28" stroke="#8c8c8c" stroke-width="0.9" />
<text x="0" y="0" font-size="10.3" text-anchor="middle" transform="translate(58.80 541.41) scale(1 1.0)">0 h</text>
<text x="0" y="0" font-size="10.3" text-anchor="middle" transform="translate(115.40 541.41) scale(1 1.0)">72 h</text>
<line x1="39.20" y1="546.50" x2="55.80" y2="546.50" stroke="#333" stroke-width="1.0" />
<line x1="62.80" y1="546.50" x2="78.90" y2="546.50" stroke="#333" stroke-width="1.0" />
<line x1="95.00" y1="546.50" x2="111.70" y2="546.50" stroke="#333" stroke-width="1.0" />
<line x1="118.60" y1="546.50" x2="135.20" y2="546.50" stroke="#333" stroke-width="1.0" />
<text x="0" y="0" font-size="10.0" text-anchor="middle" transform="translate(46.60 557.60) scale(1 1.0)">-</text>
<text x="0" y="0" font-size="9.4" text-anchor="middle" transform="translate(71.60 557.38) scale(1 1.0)">+</text>
<text x="0" y="0" font-size="10.0" text-anchor="middle" transform="translate(103.70 557.60) scale(1 1.0)">-</text>
<text x="0" y="0" font-size="9.4" text-anchor="middle" transform="translate(128.70 557.38) scale(1 1.0)">+</text>
<line x1="39.20" y1="563.50" x2="135.20" y2="563.50" stroke="#222" stroke-width="1.0" />
<text x="0" y="0" font-size="10.2" text-anchor="middle" transform="translate(87.30 578.07) scale(1 1.0)">GC7 80 µM</text>
<polyline points="107.90,418.30 107.90,413.30 130.30,413.30 130.30,418.30" fill="none" stroke="#222" stroke-width="0.9"/>
<text x="0" y="0" font-size="10.2" text-anchor="middle" transform="translate(119.10 410.17) scale(1 1.0)">ns</text>
<polyline points="96.30,435.70 96.30,430.70 118.60,430.70 118.60,435.70" fill="none" stroke="#222" stroke-width="0.9"/>
<text x="107.65" y="430.82" font-size="9.6" letter-spacing="0.35" text-anchor="middle">**</text>
<polyline points="118.60,451.80 118.60,447.30 131.00,447.30 131.00,451.80" fill="none" stroke="#222" stroke-width="0.9"/>
<text x="125.00" y="446.22" font-size="9.6" letter-spacing="0.35" text-anchor="middle">**</text>
<text x="0" y="3.71" font-size="10.3" text-anchor="middle" transform="translate(7.40 471.70) rotate(-90) scale(1 1.12)">Cell index</text>
<text x="182.00" y="385.80" font-size="15" font-weight="bold">i</text>
<line x1="214.50" y1="395.80" x2="225.30" y2="395.80" stroke="#000" stroke-width="2.6" />
<text x="0" y="0" font-size="9.0" transform="translate(230.20 399.04) scale(1 1.0)">siCt</text>
<line x1="214.50" y1="406.00" x2="225.30" y2="406.00" stroke="#a6a6a6" stroke-width="2.6" />
<text x="0" y="0" font-size="9.0" transform="translate(230.20 409.24) scale(1 1.0)">siHRI</text>
<line x1="207.50" y1="428.60" x2="207.50" y2="524.10" stroke="#1a1a1a" stroke-width="1.0" />
<line x1="202.50" y1="523.50" x2="207.50" y2="523.50" stroke="#1a1a1a" stroke-width="1.0" />
<text x="0" y="0" font-size="10.2" text-anchor="end" transform="translate(200.00 527.27) scale(1 1.0)">0</text>
<line x1="202.50" y1="499.50" x2="207.50" y2="499.50" stroke="#1a1a1a" stroke-width="1.0" />
<text x="0" y="0" font-size="10.2" text-anchor="end" transform="translate(200.00 503.65) scale(1 1.0)">2</text>
<line x1="202.50" y1="476.50" x2="207.50" y2="476.50" stroke="#1a1a1a" stroke-width="1.0" />
<text x="0" y="0" font-size="10.2" text-anchor="end" transform="translate(200.00 480.02) scale(1 1.0)">4</text>
<line x1="202.50" y1="452.50" x2="207.50" y2="452.50" stroke="#1a1a1a" stroke-width="1.0" />
<text x="0" y="0" font-size="10.2" text-anchor="end" transform="translate(200.00 456.40) scale(1 1.0)">6</text>
<line x1="202.50" y1="429.50" x2="207.50" y2="429.50" stroke="#1a1a1a" stroke-width="1.0" />
<text x="0" y="0" font-size="10.2" text-anchor="end" transform="translate(200.00 432.77) scale(1 1.0)">8</text>
<line x1="207.00" y1="523.50" x2="311.50" y2="523.50" stroke="#1a1a1a" stroke-width="1.0" />
<line x1="232.50" y1="523.50" x2="232.50" y2="527.70" stroke="#1a1a1a" stroke-width="1.0" />
<line x1="287.50" y1="523.50" x2="287.50" y2="527.70" stroke="#1a1a1a" stroke-width="1.0" />
<rect x="213.00" y="523.13" width="7.30" height="0.47" fill="#000" stroke="#111" stroke-width="0.8"/>
<rect x="224.80" y="523.01" width="7.30" height="0.59" fill="#a6a6a6" stroke="#111" stroke-width="0.8"/>
<rect x="236.40" y="522.89" width="7.30" height="0.71" fill="#000" stroke="#111" stroke-width="0.8"/>
<rect x="248.00" y="522.89" width="7.30" height="0.71" fill="#a6a6a6" stroke="#111" stroke-width="0.8"/>
<rect x="266.70" y="448.59" width="7.50" height="75.01" fill="#000" stroke="#111" stroke-width="0.8"/>
<line x1="270.45" y1="445.40" x2="270.45" y2="451.54" stroke="#8c8c8c" stroke-width="0.9" />
<line x1="267.85" y1="445.40" x2="273.05" y2="445.40" stroke="#8c8c8c" stroke-width="0.9" />
<line x1="267.85" y1="451.54" x2="273.05" y2="451.54" stroke="#8c8c8c" stroke-width="0.9" />
<rect x="278.20" y="455.09" width="7.60" height="68.51" fill="#a6a6a6" stroke="#111" stroke-width="0.8"/>
<line x1="282.00" y1="453.32" x2="282.00" y2="456.86" stroke="#8c8c8c" stroke-width="0.9" />
<line x1="279.40" y1="453.32" x2="284.60" y2="453.32" stroke="#8c8c8c" stroke-width="0.9" />
<line x1="279.40" y1="456.86" x2="284.60" y2="456.86" stroke="#8c8c8c" stroke-width="0.9" />
<rect x="290.30" y="498.79" width="7.60" height="24.81" fill="#000" stroke="#111" stroke-width="0.8"/>
<line x1="294.10" y1="497.38" x2="294.10" y2="500.21" stroke="#8c8c8c" stroke-width="0.9" />
<line x1="291.50" y1="497.38" x2="296.70" y2="497.38" stroke="#8c8c8c" stroke-width="0.9" />
<line x1="291.50" y1="500.21" x2="296.70" y2="500.21" stroke="#8c8c8c" stroke-width="0.9" />
<rect x="301.80" y="465.13" width="7.60" height="58.47" fill="#a6a6a6" stroke="#111" stroke-width="0.8"/>
<line x1="305.60" y1="460.40" x2="305.60" y2="469.85" stroke="#8c8c8c" stroke-width="0.9" />
<line x1="303.00" y1="460.40" x2="308.20" y2="460.40" stroke="#8c8c8c" stroke-width="0.9" />
<line x1="303.00" y1="469.85" x2="308.20" y2="469.85" stroke="#8c8c8c" stroke-width="0.9" />
<text x="0" y="0" font-size="10.3" text-anchor="middle" transform="translate(232.70 541.91) scale(1 1.0)">0 h</text>
<text x="0" y="0" font-size="10.3" text-anchor="middle" transform="translate(289.40 541.91) scale(1 1.0)">72 h</text>
<line x1="213.00" y1="547.50" x2="229.70" y2="547.50" stroke="#333" stroke-width="1.0" />
<line x1="236.40" y1="547.50" x2="252.40" y2="547.50" stroke="#333" stroke-width="1.0" />
<line x1="269.00" y1="547.50" x2="285.80" y2="547.50" stroke="#333" stroke-width="1.0" />
<line x1="292.40" y1="547.50" x2="309.00" y2="547.50" stroke="#333" stroke-width="1.0" />
<text x="0" y="0" font-size="10.0" text-anchor="middle" transform="translate(220.60 559.00) scale(1 1.0)">-</text>
<text x="0" y="0" font-size="9.4" text-anchor="middle" transform="translate(245.20 558.78) scale(1 1.0)">+</text>
<text x="0" y="0" font-size="10.0" text-anchor="middle" transform="translate(276.70 559.00) scale(1 1.0)">-</text>
<text x="0" y="0" font-size="9.4" text-anchor="middle" transform="translate(301.30 558.78) scale(1 1.0)">+</text>
<line x1="213.00" y1="564.50" x2="309.00" y2="564.50" stroke="#222" stroke-width="1.0" />
<text x="0" y="0" font-size="10.2" text-anchor="middle" transform="translate(261.00 579.47) scale(1 1.0)">GC7 10 µM</text>
<polyline points="283.30,419.70 283.30,414.50 306.00,414.50 306.00,419.70" fill="none" stroke="#222" stroke-width="0.9"/>
<text x="294.85" y="412.82" font-size="9.6" letter-spacing="0.35" text-anchor="middle">***</text>
<polyline points="272.10,439.40 272.10,433.30 294.20,433.30 294.20,439.40" fill="none" stroke="#222" stroke-width="0.9"/>
<text x="283.35" y="431.62" font-size="9.6" letter-spacing="0.35" text-anchor="middle">****</text>
<polyline points="292.40,456.00 292.40,450.90 306.00,450.90 306.00,456.00" fill="none" stroke="#222" stroke-width="0.9"/>
<text x="299.40" y="449.82" font-size="9.6" letter-spacing="0.35" text-anchor="middle">****</text>
<text x="0" y="3.71" font-size="10.3" text-anchor="middle" transform="translate(184.20 472.00) rotate(-90) scale(1 1.12)">Cell index</text>
<text x="350.60" y="385.30" font-size="15" font-weight="bold">j</text>
<line x1="394.50" y1="395.50" x2="404.40" y2="395.50" stroke="#000" stroke-width="2.6" />
<text x="0" y="0" font-size="9.0" transform="translate(409.30 398.74) scale(1 1.0)">siCt</text>
<line x1="394.50" y1="406.40" x2="404.40" y2="406.40" stroke="#a6a6a6" stroke-width="2.6" />
<text x="0" y="0" font-size="9.0" transform="translate(409.30 409.64) scale(1 1.0)">siPERK</text>
<line x1="386.50" y1="427.20" x2="386.50" y2="522.90" stroke="#1a1a1a" stroke-width="1.0" />
<line x1="381.50" y1="522.50" x2="386.50" y2="522.50" stroke="#1a1a1a" stroke-width="1.0" />
<text x="0" y="0" font-size="10.2" text-anchor="end" transform="translate(379.00 526.07) scale(1 1.0)">0</text>
<line x1="381.50" y1="498.50" x2="386.50" y2="498.50" stroke="#1a1a1a" stroke-width="1.0" />
<text x="0" y="0" font-size="10.2" text-anchor="end" transform="translate(379.00 502.40) scale(1 1.0)">2</text>
<line x1="381.50" y1="475.50" x2="386.50" y2="475.50" stroke="#1a1a1a" stroke-width="1.0" />
<text x="0" y="0" font-size="10.2" text-anchor="end" transform="translate(379.00 478.72) scale(1 1.0)">4</text>
<line x1="381.50" y1="451.50" x2="386.50" y2="451.50" stroke="#1a1a1a" stroke-width="1.0" />
<text x="0" y="0" font-size="10.2" text-anchor="end" transform="translate(379.00 455.05) scale(1 1.0)">6</text>
<line x1="381.50" y1="427.50" x2="386.50" y2="427.50" stroke="#1a1a1a" stroke-width="1.0" />
<text x="0" y="0" font-size="10.2" text-anchor="end" transform="translate(379.00 431.37) scale(1 1.0)">8</text>
<line x1="386.00" y1="522.50" x2="489.70" y2="522.50" stroke="#1a1a1a" stroke-width="1.0" />
<line x1="412.50" y1="522.50" x2="412.50" y2="526.70" stroke="#1a1a1a" stroke-width="1.0" />
<line x1="467.50" y1="522.50" x2="467.50" y2="526.70" stroke="#1a1a1a" stroke-width="1.0" />
<rect x="392.20" y="521.93" width="7.30" height="0.17" fill="#000" stroke="#111" stroke-width="0.8"/>
<rect x="403.80" y="521.81" width="7.30" height="0.29" fill="#a6a6a6" stroke="#111" stroke-width="0.8"/>
<rect x="415.50" y="521.69" width="7.30" height="0.41" fill="#000" stroke="#111" stroke-width="0.8"/>
<rect x="427.10" y="521.69" width="7.30" height="0.41" fill="#a6a6a6" stroke="#111" stroke-width="0.8"/>
<rect x="446.70" y="447.23" width="7.50" height="74.87" fill="#000" stroke="#111" stroke-width="0.8"/>
<line x1="450.45" y1="443.09" x2="450.45" y2="450.78" stroke="#8c8c8c" stroke-width="0.9" />
<line x1="447.85" y1="443.09" x2="453.05" y2="443.09" stroke="#8c8c8c" stroke-width="0.9" />
<line x1="447.85" y1="450.78" x2="453.05" y2="450.78" stroke="#8c8c8c" stroke-width="0.9" />
<rect x="457.90" y="437.76" width="7.60" height="84.34" fill="#a6a6a6" stroke="#111" stroke-width="0.8"/>
<line x1="461.70" y1="433.03" x2="461.70" y2="441.31" stroke="#8c8c8c" stroke-width="0.9" />
<line x1="459.10" y1="433.03" x2="464.30" y2="433.03" stroke="#8c8c8c" stroke-width="0.9" />
<line x1="459.10" y1="441.31" x2="464.30" y2="441.31" stroke="#8c8c8c" stroke-width="0.9" />
<rect x="470.00" y="497.54" width="7.60" height="24.56" fill="#000" stroke="#111" stroke-width="0.8"/>
<line x1="473.80" y1="495.77" x2="473.80" y2="499.32" stroke="#8c8c8c" stroke-width="0.9" />
<line x1="471.20" y1="495.77" x2="476.40" y2="495.77" stroke="#8c8c8c" stroke-width="0.9" />
<line x1="471.20" y1="499.32" x2="476.40" y2="499.32" stroke="#8c8c8c" stroke-width="0.9" />
<rect x="481.50" y="450.19" width="7.60" height="71.91" fill="#a6a6a6" stroke="#111" stroke-width="0.8"/>
<line x1="485.30" y1="440.72" x2="485.30" y2="459.66" stroke="#8c8c8c" stroke-width="0.9" />
<line x1="482.70" y1="440.72" x2="487.90" y2="440.72" stroke="#8c8c8c" stroke-width="0.9" />
<line x1="482.70" y1="459.66" x2="487.90" y2="459.66" stroke="#8c8c8c" stroke-width="0.9" />
<text x="0" y="0" font-size="10.3" text-anchor="middle" transform="translate(411.20 541.91) scale(1 1.0)">0 h</text>
<text x="0" y="0" font-size="10.3" text-anchor="middle" transform="translate(467.90 541.91) scale(1 1.0)">72 h</text>
<line x1="392.10" y1="547.50" x2="408.20" y2="547.50" stroke="#333" stroke-width="1.0" />
<line x1="415.50" y1="547.50" x2="431.50" y2="547.50" stroke="#333" stroke-width="1.0" />
<line x1="448.20" y1="547.50" x2="464.20" y2="547.50" stroke="#333" stroke-width="1.0" />
<line x1="471.50" y1="547.50" x2="487.60" y2="547.50" stroke="#333" stroke-width="1.0" />
<text x="0" y="0" font-size="10.0" text-anchor="middle" transform="translate(399.70 559.00) scale(1 1.0)">-</text>
<text x="0" y="0" font-size="9.4" text-anchor="middle" transform="translate(424.40 558.78) scale(1 1.0)">+</text>
<text x="0" y="0" font-size="10.0" text-anchor="middle" transform="translate(455.80 559.00) scale(1 1.0)">-</text>
<text x="0" y="0" font-size="9.4" text-anchor="middle" transform="translate(480.40 558.78) scale(1 1.0)">+</text>
<line x1="392.10" y1="564.50" x2="487.60" y2="564.50" stroke="#222" stroke-width="1.0" />
<text x="0" y="0" font-size="10.2" text-anchor="middle" transform="translate(439.70 579.47) scale(1 1.0)">GC7 10 µM</text>
<polyline points="463.30,401.80 463.30,397.00 485.50,397.00 485.50,401.80" fill="none" stroke="#222" stroke-width="0.9"/>
<text x="474.60" y="396.12" font-size="9.6" letter-spacing="0.35" text-anchor="middle">**</text>
<polyline points="451.80,420.00 451.80,414.50 474.00,414.50 474.00,420.00" fill="none" stroke="#222" stroke-width="0.9"/>
<text x="463.10" y="412.82" font-size="9.6" letter-spacing="0.35" text-anchor="middle">****</text>
<polyline points="474.00,437.30 474.00,431.80 485.50,431.80 485.50,437.30" fill="none" stroke="#222" stroke-width="0.9"/>
<text x="479.95" y="430.12" font-size="9.6" letter-spacing="0.35" text-anchor="middle">****</text>
<text x="0" y="3.71" font-size="10.3" text-anchor="middle" transform="translate(363.30 473.60) rotate(-90) scale(1 1.12)">Cell index</text>
<text x="523.30" y="384.20" font-size="15" font-weight="bold">k</text>
<line x1="567.10" y1="401.50" x2="577.00" y2="401.50" stroke="#000" stroke-width="2.6" />
<text x="0" y="0" font-size="9.0" transform="translate(582.20 404.74) scale(1 1.0)">siCt</text>
<line x1="567.10" y1="412.10" x2="577.00" y2="412.10" stroke="#a6a6a6" stroke-width="2.6" />
<text x="0" y="0" font-size="9.0" transform="translate(582.20 415.34) scale(1 1.0)">siOMA1</text>
<line x1="563.50" y1="426.40" x2="563.50" y2="522.00" stroke="#1a1a1a" stroke-width="1.0" />
<line x1="558.50" y1="521.50" x2="563.50" y2="521.50" stroke="#1a1a1a" stroke-width="1.0" />
<text x="0" y="0" font-size="10.2" text-anchor="end" transform="translate(556.00 525.17) scale(1 1.0)">0</text>
<line x1="558.50" y1="497.50" x2="563.50" y2="497.50" stroke="#1a1a1a" stroke-width="1.0" />
<text x="0" y="0" font-size="10.2" text-anchor="end" transform="translate(556.00 501.52) scale(1 1.0)">2</text>
<line x1="558.50" y1="474.50" x2="563.50" y2="474.50" stroke="#1a1a1a" stroke-width="1.0" />
<text x="0" y="0" font-size="10.2" text-anchor="end" transform="translate(556.00 477.87) scale(1 1.0)">4</text>
<line x1="558.50" y1="450.50" x2="563.50" y2="450.50" stroke="#1a1a1a" stroke-width="1.0" />
<text x="0" y="0" font-size="10.2" text-anchor="end" transform="translate(556.00 454.22) scale(1 1.0)">6</text>
<line x1="558.50" y1="426.50" x2="563.50" y2="426.50" stroke="#1a1a1a" stroke-width="1.0" />
<text x="0" y="0" font-size="10.2" text-anchor="end" transform="translate(556.00 430.57) scale(1 1.0)">8</text>
<line x1="563.00" y1="521.50" x2="669.50" y2="521.50" stroke="#1a1a1a" stroke-width="1.0" />
<line x1="589.50" y1="521.50" x2="589.50" y2="525.70" stroke="#1a1a1a" stroke-width="1.0" />
<line x1="644.50" y1="521.50" x2="644.50" y2="525.70" stroke="#1a1a1a" stroke-width="1.0" />
<rect x="568.20" y="517.95" width="7.70" height="3.55" fill="#000" stroke="#111" stroke-width="0.8"/>
<line x1="572.05" y1="516.77" x2="572.05" y2="519.13" stroke="#8c8c8c" stroke-width="0.9" />
<line x1="569.45" y1="516.77" x2="574.65" y2="516.77" stroke="#8c8c8c" stroke-width="0.9" />
<line x1="569.45" y1="519.13" x2="574.65" y2="519.13" stroke="#8c8c8c" stroke-width="0.9" />
<rect x="579.70" y="516.77" width="7.90" height="4.73" fill="#a6a6a6" stroke="#111" stroke-width="0.8"/>
<line x1="583.65" y1="515.00" x2="583.65" y2="518.54" stroke="#8c8c8c" stroke-width="0.9" />
<line x1="581.05" y1="515.00" x2="586.25" y2="515.00" stroke="#8c8c8c" stroke-width="0.9" />
<line x1="581.05" y1="518.54" x2="586.25" y2="518.54" stroke="#8c8c8c" stroke-width="0.9" />
<rect x="591.70" y="516.18" width="7.70" height="5.32" fill="#000" stroke="#111" stroke-width="0.8"/>
<line x1="595.55" y1="515.35" x2="595.55" y2="517.01" stroke="#8c8c8c" stroke-width="0.9" />
<line x1="592.95" y1="515.35" x2="598.15" y2="515.35" stroke="#8c8c8c" stroke-width="0.9" />
<line x1="592.95" y1="517.01" x2="598.15" y2="517.01" stroke="#8c8c8c" stroke-width="0.9" />
<rect x="603.20" y="513.22" width="7.70" height="8.28" fill="#a6a6a6" stroke="#111" stroke-width="0.8"/>
<line x1="607.05" y1="507.90" x2="607.05" y2="517.95" stroke="#8c8c8c" stroke-width="0.9" />
<line x1="604.45" y1="507.90" x2="609.65" y2="507.90" stroke="#8c8c8c" stroke-width="0.9" />
<line x1="604.45" y1="517.95" x2="609.65" y2="517.95" stroke="#8c8c8c" stroke-width="0.9" />
<rect x="623.20" y="449.37" width="7.70" height="72.13" fill="#000" stroke="#111" stroke-width="0.8"/>
<line x1="627.05" y1="447.59" x2="627.05" y2="451.14" stroke="#8c8c8c" stroke-width="0.9" />
<line x1="624.45" y1="447.59" x2="629.65" y2="447.59" stroke="#8c8c8c" stroke-width="0.9" />
<line x1="624.45" y1="451.14" x2="629.65" y2="451.14" stroke="#8c8c8c" stroke-width="0.9" />
<rect x="634.70" y="452.91" width="7.90" height="68.59" fill="#a6a6a6" stroke="#111" stroke-width="0.8"/>
<line x1="638.65" y1="446.41" x2="638.65" y2="461.78" stroke="#8c8c8c" stroke-width="0.9" />
<line x1="636.05" y1="446.41" x2="641.25" y2="446.41" stroke="#8c8c8c" stroke-width="0.9" />
<line x1="636.05" y1="461.78" x2="641.25" y2="461.78" stroke="#8c8c8c" stroke-width="0.9" />
<rect x="646.50" y="497.85" width="7.90" height="23.65" fill="#000" stroke="#111" stroke-width="0.8"/>
<line x1="650.45" y1="483.07" x2="650.45" y2="512.63" stroke="#8c8c8c" stroke-width="0.9" />
<line x1="647.85" y1="483.07" x2="653.05" y2="483.07" stroke="#8c8c8c" stroke-width="0.9" />
<line x1="647.85" y1="512.63" x2="653.05" y2="512.63" stroke="#8c8c8c" stroke-width="0.9" />
<rect x="658.50" y="477.16" width="7.40" height="44.34" fill="#a6a6a6" stroke="#111" stroke-width="0.8"/>
<line x1="662.20" y1="461.19" x2="662.20" y2="493.12" stroke="#8c8c8c" stroke-width="0.9" />
<line x1="659.60" y1="461.19" x2="664.80" y2="461.19" stroke="#8c8c8c" stroke-width="0.9" />
<line x1="659.60" y1="493.12" x2="664.80" y2="493.12" stroke="#8c8c8c" stroke-width="0.9" />
<text x="0" y="0" font-size="10.3" text-anchor="middle" transform="translate(587.40 541.61) scale(1 1.0)">0 h</text>
<text x="0" y="0" font-size="10.3" text-anchor="middle" transform="translate(644.40 541.61) scale(1 1.0)">72 h</text>
<line x1="567.70" y1="546.50" x2="584.40" y2="546.50" stroke="#333" stroke-width="1.0" />
<line x1="591.00" y1="546.50" x2="607.40" y2="546.50" stroke="#333" stroke-width="1.0" />
<line x1="624.10" y1="546.50" x2="640.50" y2="546.50" stroke="#333" stroke-width="1.0" />
<line x1="647.40" y1="546.50" x2="663.80" y2="546.50" stroke="#333" stroke-width="1.0" />
<text x="0" y="0" font-size="10.0" text-anchor="middle" transform="translate(575.30 557.40) scale(1 1.0)">-</text>
<text x="0" y="0" font-size="9.4" text-anchor="middle" transform="translate(599.90 557.18) scale(1 1.0)">+</text>
<text x="0" y="0" font-size="10.0" text-anchor="middle" transform="translate(632.30 557.40) scale(1 1.0)">-</text>
<text x="0" y="0" font-size="9.4" text-anchor="middle" transform="translate(656.90 557.18) scale(1 1.0)">+</text>
<line x1="567.70" y1="564.50" x2="663.80" y2="564.50" stroke="#222" stroke-width="1.0" />
<text x="0" y="0" font-size="10.2" text-anchor="middle" transform="translate(615.60 578.87) scale(1 1.0)">GC7 10 µM</text>
<polyline points="639.20,416.70 639.20,411.50 662.00,411.50 662.00,416.70" fill="none" stroke="#222" stroke-width="0.9"/>
<text x="650.80" y="410.32" font-size="9.6" letter-spacing="0.35" text-anchor="middle">*</text>
<polyline points="628.00,435.80 628.00,430.60 650.50,430.60 650.50,435.80" fill="none" stroke="#222" stroke-width="0.9"/>
<text x="639.45" y="428.82" font-size="9.6" letter-spacing="0.35" text-anchor="middle">****</text>
<polyline points="650.50,453.30 650.50,448.50 662.00,448.50 662.00,453.30" fill="none" stroke="#222" stroke-width="0.9"/>
<text x="656.45" y="446.72" font-size="9.6" letter-spacing="0.35" text-anchor="middle">*</text>
<text x="11.40" y="598.20" font-size="15" font-weight="bold">l</text>
<line x1="37.50" y1="613.50" x2="48.30" y2="613.50" stroke="#000" stroke-width="2.6" />
<text x="0" y="0" font-size="9.0" transform="translate(52.60 616.74) scale(1 1.0)">siCt</text>
<line x1="37.50" y1="623.40" x2="48.30" y2="623.40" stroke="#a6a6a6" stroke-width="2.6" />
<text x="0" y="0" font-size="9.0" transform="translate(52.60 626.64) scale(1 1.0)">siDELE-1</text>
<line x1="33.50" y1="635.80" x2="33.50" y2="731.30" stroke="#1a1a1a" stroke-width="1.0" />
<line x1="28.50" y1="730.50" x2="33.50" y2="730.50" stroke="#1a1a1a" stroke-width="1.0" />
<text x="0" y="0" font-size="10.2" text-anchor="end" transform="translate(26.00 734.47) scale(1 1.0)">0</text>
<line x1="28.50" y1="707.50" x2="33.50" y2="707.50" stroke="#1a1a1a" stroke-width="1.0" />
<text x="0" y="0" font-size="10.2" text-anchor="end" transform="translate(26.00 710.85) scale(1 1.0)">2</text>
<line x1="28.50" y1="683.50" x2="33.50" y2="683.50" stroke="#1a1a1a" stroke-width="1.0" />
<text x="0" y="0" font-size="10.2" text-anchor="end" transform="translate(26.00 687.22) scale(1 1.0)">4</text>
<line x1="28.50" y1="659.50" x2="33.50" y2="659.50" stroke="#1a1a1a" stroke-width="1.0" />
<text x="0" y="0" font-size="10.2" text-anchor="end" transform="translate(26.00 663.60) scale(1 1.0)">6</text>
<line x1="28.50" y1="636.50" x2="33.50" y2="636.50" stroke="#1a1a1a" stroke-width="1.0" />
<text x="0" y="0" font-size="10.2" text-anchor="end" transform="translate(26.00 639.97) scale(1 1.0)">8</text>
<line x1="33.00" y1="730.50" x2="138.50" y2="730.50" stroke="#1a1a1a" stroke-width="1.0" />
<line x1="58.50" y1="730.50" x2="58.50" y2="734.70" stroke="#1a1a1a" stroke-width="1.0" />
<line x1="113.50" y1="730.50" x2="113.50" y2="734.70" stroke="#1a1a1a" stroke-width="1.0" />
<rect x="37.50" y="727.26" width="7.00" height="3.54" fill="#000" stroke="#111" stroke-width="0.8"/>
<line x1="41.00" y1="725.84" x2="41.00" y2="728.67" stroke="#8c8c8c" stroke-width="0.9" />
<line x1="38.40" y1="725.84" x2="43.60" y2="725.84" stroke="#8c8c8c" stroke-width="0.9" />
<line x1="38.40" y1="728.67" x2="43.60" y2="728.67" stroke="#8c8c8c" stroke-width="0.9" />
<rect x="48.80" y="725.48" width="7.50" height="5.32" fill="#a6a6a6" stroke="#111" stroke-width="0.8"/>
<line x1="52.55" y1="724.30" x2="52.55" y2="726.67" stroke="#8c8c8c" stroke-width="0.9" />
<line x1="49.95" y1="724.30" x2="55.15" y2="724.30" stroke="#8c8c8c" stroke-width="0.9" />
<line x1="49.95" y1="726.67" x2="55.15" y2="726.67" stroke="#8c8c8c" stroke-width="0.9" />
<rect x="60.50" y="725.48" width="7.30" height="5.32" fill="#000" stroke="#111" stroke-width="0.8"/>
<line x1="64.15" y1="724.30" x2="64.15" y2="726.67" stroke="#8c8c8c" stroke-width="0.9" />
<line x1="61.55" y1="724.30" x2="66.75" y2="724.30" stroke="#8c8c8c" stroke-width="0.9" />
<line x1="61.55" y1="726.67" x2="66.75" y2="726.67" stroke="#8c8c8c" stroke-width="0.9" />
<rect x="72.30" y="724.89" width="7.30" height="5.91" fill="#a6a6a6" stroke="#111" stroke-width="0.8"/>
<line x1="75.95" y1="723.95" x2="75.95" y2="725.84" stroke="#8c8c8c" stroke-width="0.9" />
<line x1="73.35" y1="723.95" x2="78.55" y2="723.95" stroke="#8c8c8c" stroke-width="0.9" />
<line x1="73.35" y1="725.84" x2="78.55" y2="725.84" stroke="#8c8c8c" stroke-width="0.9" />
<rect x="92.20" y="664.06" width="7.50" height="66.74" fill="#000" stroke="#111" stroke-width="0.8"/>
<line x1="95.95" y1="649.88" x2="95.95" y2="678.23" stroke="#8c8c8c" stroke-width="0.9" />
<line x1="93.35" y1="649.88" x2="98.55" y2="649.88" stroke="#8c8c8c" stroke-width="0.9" />
<line x1="93.35" y1="678.23" x2="98.55" y2="678.23" stroke="#8c8c8c" stroke-width="0.9" />
<rect x="103.90" y="657.56" width="7.30" height="73.24" fill="#a6a6a6" stroke="#111" stroke-width="0.8"/>
<line x1="107.55" y1="644.57" x2="107.55" y2="670.56" stroke="#8c8c8c" stroke-width="0.9" />
<line x1="104.95" y1="644.57" x2="110.15" y2="644.57" stroke="#8c8c8c" stroke-width="0.9" />
<line x1="104.95" y1="670.56" x2="110.15" y2="670.56" stroke="#8c8c8c" stroke-width="0.9" />
<rect x="115.70" y="706.58" width="7.50" height="24.22" fill="#000" stroke="#111" stroke-width="0.8"/>
<line x1="119.45" y1="691.82" x2="119.45" y2="721.35" stroke="#8c8c8c" stroke-width="0.9" />
<line x1="116.85" y1="691.82" x2="122.05" y2="691.82" stroke="#8c8c8c" stroke-width="0.9" />
<line x1="116.85" y1="721.35" x2="122.05" y2="721.35" stroke="#8c8c8c" stroke-width="0.9" />
<rect x="127.20" y="679.42" width="7.50" height="51.38" fill="#a6a6a6" stroke="#111" stroke-width="0.8"/>
<line x1="130.95" y1="655.79" x2="130.95" y2="703.04" stroke="#8c8c8c" stroke-width="0.9" />
<line x1="128.35" y1="655.79" x2="133.55" y2="655.79" stroke="#8c8c8c" stroke-width="0.9" />
<line x1="128.35" y1="703.04" x2="133.55" y2="703.04" stroke="#8c8c8c" stroke-width="0.9" />
<text x="0" y="0" font-size="10.3" text-anchor="middle" transform="translate(58.10 753.31) scale(1 1.0)">0 h</text>
<text x="0" y="0" font-size="10.3" text-anchor="middle" transform="translate(115.20 753.31) scale(1 1.0)">72 h</text>
<line x1="38.80" y1="758.50" x2="55.50" y2="758.50" stroke="#333" stroke-width="1.0" />
<line x1="63.00" y1="758.50" x2="79.00" y2="758.50" stroke="#333" stroke-width="1.0" />
<line x1="95.10" y1="758.50" x2="111.70" y2="758.50" stroke="#333" stroke-width="1.0" />
<line x1="118.70" y1="758.50" x2="134.70" y2="758.50" stroke="#333" stroke-width="1.0" />
<text x="0" y="0" font-size="10.0" text-anchor="middle" transform="translate(46.90 769.30) scale(1 1.0)">-</text>
<text x="0" y="0" font-size="9.4" text-anchor="middle" transform="translate(71.40 769.08) scale(1 1.0)">+</text>
<text x="0" y="0" font-size="10.0" text-anchor="middle" transform="translate(103.10 769.30) scale(1 1.0)">-</text>
<text x="0" y="0" font-size="9.4" text-anchor="middle" transform="translate(128.40 769.08) scale(1 1.0)">+</text>
<line x1="38.80" y1="775.50" x2="134.70" y2="775.50" stroke="#222" stroke-width="1.0" />
<text x="0" y="0" font-size="10.2" text-anchor="middle" transform="translate(87.60 790.47) scale(1 1.0)">GC7 10 µM</text>
<polyline points="108.50,617.50 108.50,612.70 130.70,612.70 130.70,617.50" fill="none" stroke="#222" stroke-width="0.9"/>
<text x="0" y="0" font-size="10.2" text-anchor="middle" transform="translate(119.60 607.97) scale(1 1.0)">ns</text>
<polyline points="97.00,635.50 97.00,630.10 119.20,630.10 119.20,635.50" fill="none" stroke="#222" stroke-width="0.9"/>
<text x="108.30" y="628.52" font-size="9.6" letter-spacing="0.35" text-anchor="middle">**</text>
<polyline points="119.20,651.50 119.20,647.00 130.70,647.00 130.70,651.50" fill="none" stroke="#222" stroke-width="0.9"/>
<text x="0" y="0" font-size="10.2" text-anchor="middle" transform="translate(124.95 642.57) scale(1 1.0)">ns</text>
</svg>
</body></html>
